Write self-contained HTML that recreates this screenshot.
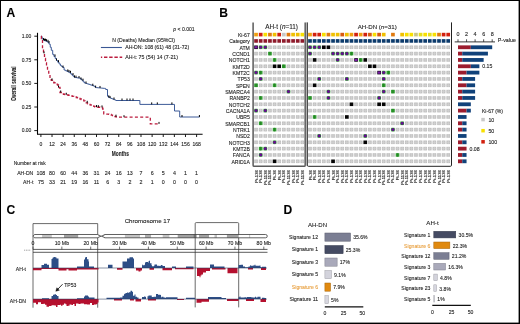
<!DOCTYPE html>
<html><head><meta charset="utf-8"><title>Figure</title>
<style>
html,body{margin:0;padding:0;background:#fff;}
body{width:520px;height:324px;overflow:hidden;}
svg{display:block;font-family:"Liberation Sans",sans-serif;will-change:transform;}
text{stroke-width:0.1px;stroke:#222;}
text.o{stroke:#e8a040;}
text.n{stroke-width:0.12px;}
</style></head><body>
<svg width="520" height="324" viewBox="0 0 520 324">
<rect x="0" y="0" width="520" height="324" fill="#fff"/>
<defs><g id="cg"><rect x="-1.85" y="-1.80" width="3.70" height="3.60" fill="#c2c2c2"/><rect x="-0.3" y="-1.80" width="0.6" height="3.60" fill="#d8d8d8"/><rect x="-1.85" y="-0.25" width="3.70" height="0.5" fill="#d2d2d2"/></g><g id="cG"><rect x="-1.85" y="-1.80" width="3.70" height="3.60" fill="#2f9a2f"/><rect x="-0.3" y="-1.80" width="0.6" height="3.60" fill="#1f7a1f"/></g><g id="cP"><rect x="-1.85" y="-1.80" width="3.70" height="3.60" fill="#45b545"/><rect x="-1.40" y="-1.35" width="2.80" height="2.70" rx="1.1" fill="#6c0c9c" stroke="#3a0a50" stroke-width="0.35"/></g><g id="cK"><rect x="-1.85" y="-1.80" width="3.70" height="3.60" fill="#050505"/></g><g id="cX"><rect x="-1.85" y="-1.80" width="3.70" height="3.60" fill="#12061a"/><rect x="-1.35" y="-1.10" width="2.70" height="2.20" fill="#7a1aa8"/></g></defs>
<text x="6.60" y="16.56" font-size="12.10" text-anchor="start" font-weight="bold" fill="#000" >A</text>
<line x1="37.50" y1="32.80" x2="37.50" y2="134.30" stroke="#000" stroke-width="1.10" />
<line x1="37.00" y1="134.30" x2="202.60" y2="134.30" stroke="#000" stroke-width="1.10" />
<line x1="34.30" y1="36.20" x2="37.50" y2="36.20" stroke="#000" stroke-width="0.90" />
<text x="31.40" y="38.00" font-size="5.00" text-anchor="end" font-weight="normal" fill="#222" >1.00</text>
<line x1="34.30" y1="59.80" x2="37.50" y2="59.80" stroke="#000" stroke-width="0.90" />
<text x="31.40" y="61.60" font-size="5.00" text-anchor="end" font-weight="normal" fill="#222" >0.75</text>
<line x1="34.30" y1="83.40" x2="37.50" y2="83.40" stroke="#000" stroke-width="0.90" />
<text x="31.40" y="85.20" font-size="5.00" text-anchor="end" font-weight="normal" fill="#222" >0.50</text>
<line x1="34.30" y1="107.00" x2="37.50" y2="107.00" stroke="#000" stroke-width="0.90" />
<text x="31.40" y="108.80" font-size="5.00" text-anchor="end" font-weight="normal" fill="#222" >0.25</text>
<line x1="34.30" y1="130.60" x2="37.50" y2="130.60" stroke="#000" stroke-width="0.90" />
<text x="31.40" y="132.40" font-size="5.00" text-anchor="end" font-weight="normal" fill="#222" >0.00</text>
<line x1="40.90" y1="134.30" x2="40.90" y2="137.00" stroke="#000" stroke-width="0.90" />
<text x="40.90" y="146.22" font-size="5.05" text-anchor="middle" font-weight="normal" fill="#222" >0</text>
<line x1="52.02" y1="134.30" x2="52.02" y2="137.00" stroke="#000" stroke-width="0.90" />
<text x="52.02" y="146.22" font-size="5.05" text-anchor="middle" font-weight="normal" fill="#222" >12</text>
<line x1="63.14" y1="134.30" x2="63.14" y2="137.00" stroke="#000" stroke-width="0.90" />
<text x="63.14" y="146.22" font-size="5.05" text-anchor="middle" font-weight="normal" fill="#222" >24</text>
<line x1="74.26" y1="134.30" x2="74.26" y2="137.00" stroke="#000" stroke-width="0.90" />
<text x="74.26" y="146.22" font-size="5.05" text-anchor="middle" font-weight="normal" fill="#222" >36</text>
<line x1="85.39" y1="134.30" x2="85.39" y2="137.00" stroke="#000" stroke-width="0.90" />
<text x="85.39" y="146.22" font-size="5.05" text-anchor="middle" font-weight="normal" fill="#222" >48</text>
<line x1="96.51" y1="134.30" x2="96.51" y2="137.00" stroke="#000" stroke-width="0.90" />
<text x="96.51" y="146.22" font-size="5.05" text-anchor="middle" font-weight="normal" fill="#222" >60</text>
<line x1="107.63" y1="134.30" x2="107.63" y2="137.00" stroke="#000" stroke-width="0.90" />
<text x="107.63" y="146.22" font-size="5.05" text-anchor="middle" font-weight="normal" fill="#222" >72</text>
<line x1="118.75" y1="134.30" x2="118.75" y2="137.00" stroke="#000" stroke-width="0.90" />
<text x="118.75" y="146.22" font-size="5.05" text-anchor="middle" font-weight="normal" fill="#222" >84</text>
<line x1="129.87" y1="134.30" x2="129.87" y2="137.00" stroke="#000" stroke-width="0.90" />
<text x="129.87" y="146.22" font-size="5.05" text-anchor="middle" font-weight="normal" fill="#222" >96</text>
<line x1="140.99" y1="134.30" x2="140.99" y2="137.00" stroke="#000" stroke-width="0.90" />
<text x="140.99" y="146.22" font-size="5.05" text-anchor="middle" font-weight="normal" fill="#222" >108</text>
<line x1="152.12" y1="134.30" x2="152.12" y2="137.00" stroke="#000" stroke-width="0.90" />
<text x="152.12" y="146.22" font-size="5.05" text-anchor="middle" font-weight="normal" fill="#222" >120</text>
<line x1="163.24" y1="134.30" x2="163.24" y2="137.00" stroke="#000" stroke-width="0.90" />
<text x="163.24" y="146.22" font-size="5.05" text-anchor="middle" font-weight="normal" fill="#222" >132</text>
<line x1="174.36" y1="134.30" x2="174.36" y2="137.00" stroke="#000" stroke-width="0.90" />
<text x="174.36" y="146.22" font-size="5.05" text-anchor="middle" font-weight="normal" fill="#222" >144</text>
<line x1="185.48" y1="134.30" x2="185.48" y2="137.00" stroke="#000" stroke-width="0.90" />
<text x="185.48" y="146.22" font-size="5.05" text-anchor="middle" font-weight="normal" fill="#222" >156</text>
<line x1="196.60" y1="134.30" x2="196.60" y2="137.00" stroke="#000" stroke-width="0.90" />
<text x="196.60" y="146.22" font-size="5.05" text-anchor="middle" font-weight="normal" fill="#222" >168</text>
<text transform="translate(120.3,156.1) scale(0.67,1)" font-size="7.2" font-weight="bold" text-anchor="middle" fill="#222">Months</text>
<text transform="translate(15.9,83.6) rotate(-90) scale(0.67,1)" font-size="6.9" font-weight="bold" text-anchor="middle" fill="#222">Overall survival</text>
<text x="13.70" y="165.48" font-size="4.95" text-anchor="start" font-weight="normal" fill="#222" >Number at risk</text>
<text x="33.30" y="174.84" font-size="5.10" text-anchor="end" font-weight="normal" fill="#222" >AH-DN</text>
<text x="33.30" y="183.64" font-size="5.10" text-anchor="end" font-weight="normal" fill="#222" >AH-t</text>
<text x="40.90" y="174.91" font-size="5.30" text-anchor="middle" font-weight="normal" fill="#222" >108</text>
<text x="40.90" y="183.71" font-size="5.30" text-anchor="middle" font-weight="normal" fill="#222" >75</text>
<text x="52.02" y="174.91" font-size="5.30" text-anchor="middle" font-weight="normal" fill="#222" >80</text>
<text x="52.02" y="183.71" font-size="5.30" text-anchor="middle" font-weight="normal" fill="#222" >33</text>
<text x="63.14" y="174.91" font-size="5.30" text-anchor="middle" font-weight="normal" fill="#222" >60</text>
<text x="63.14" y="183.71" font-size="5.30" text-anchor="middle" font-weight="normal" fill="#222" >21</text>
<text x="74.26" y="174.91" font-size="5.30" text-anchor="middle" font-weight="normal" fill="#222" >44</text>
<text x="74.26" y="183.71" font-size="5.30" text-anchor="middle" font-weight="normal" fill="#222" >19</text>
<text x="85.39" y="174.91" font-size="5.30" text-anchor="middle" font-weight="normal" fill="#222" >36</text>
<text x="85.39" y="183.71" font-size="5.30" text-anchor="middle" font-weight="normal" fill="#222" >16</text>
<text x="96.51" y="174.91" font-size="5.30" text-anchor="middle" font-weight="normal" fill="#222" >31</text>
<text x="96.51" y="183.71" font-size="5.30" text-anchor="middle" font-weight="normal" fill="#222" >11</text>
<text x="107.63" y="174.91" font-size="5.30" text-anchor="middle" font-weight="normal" fill="#222" >24</text>
<text x="107.63" y="183.71" font-size="5.30" text-anchor="middle" font-weight="normal" fill="#222" >6</text>
<text x="118.75" y="174.91" font-size="5.30" text-anchor="middle" font-weight="normal" fill="#222" >16</text>
<text x="118.75" y="183.71" font-size="5.30" text-anchor="middle" font-weight="normal" fill="#222" >3</text>
<text x="129.87" y="174.91" font-size="5.30" text-anchor="middle" font-weight="normal" fill="#222" >13</text>
<text x="129.87" y="183.71" font-size="5.30" text-anchor="middle" font-weight="normal" fill="#222" >2</text>
<text x="140.99" y="174.91" font-size="5.30" text-anchor="middle" font-weight="normal" fill="#222" >7</text>
<text x="140.99" y="183.71" font-size="5.30" text-anchor="middle" font-weight="normal" fill="#222" >2</text>
<text x="152.12" y="174.91" font-size="5.30" text-anchor="middle" font-weight="normal" fill="#222" >6</text>
<text x="152.12" y="183.71" font-size="5.30" text-anchor="middle" font-weight="normal" fill="#222" >1</text>
<text x="163.24" y="174.91" font-size="5.30" text-anchor="middle" font-weight="normal" fill="#222" >5</text>
<text x="163.24" y="183.71" font-size="5.30" text-anchor="middle" font-weight="normal" fill="#222" >0</text>
<text x="174.36" y="174.91" font-size="5.30" text-anchor="middle" font-weight="normal" fill="#222" >4</text>
<text x="174.36" y="183.71" font-size="5.30" text-anchor="middle" font-weight="normal" fill="#222" >0</text>
<text x="185.48" y="174.91" font-size="5.30" text-anchor="middle" font-weight="normal" fill="#222" >1</text>
<text x="185.48" y="183.71" font-size="5.30" text-anchor="middle" font-weight="normal" fill="#222" >0</text>
<text x="196.60" y="174.91" font-size="5.30" text-anchor="middle" font-weight="normal" fill="#222" >1</text>
<text x="196.60" y="183.71" font-size="5.30" text-anchor="middle" font-weight="normal" fill="#222" >0</text>
<text x="173.3" y="31.3" font-size="5.1" fill="#222"><tspan font-style="italic">p</tspan> &lt; 0.001</text>
<text x="112.20" y="41.64" font-size="5.10" text-anchor="start" font-weight="normal" fill="#222" >N (Deaths) Median (95%CI)</text>
<line x1="100.90" y1="47.50" x2="121.90" y2="47.50" stroke="#3a5794" stroke-width="1.10" />
<text x="125.20" y="49.07" font-size="5.20" text-anchor="start" font-weight="normal" fill="#222" >AH-DN: 108 (61) 48 (31-72)</text>
<line x1="100.90" y1="57.30" x2="122.20" y2="57.30" stroke="#bb1c3e" stroke-width="1.40" stroke-dasharray="3.4 1.8" stroke-dashoffset="2.1"/>
<text x="125.20" y="58.69" font-size="5.25" text-anchor="start" font-weight="normal" fill="#222" >AH-t: 75 (54) 14 (7-21)</text>
<path d="M40.90 36.30 H42.00 V38.20 H43.10 V40.10 H44.47 V40.67 H45.83 V41.23 H47.20 V41.80 H48.20 V43.00 H49.20 V44.20 H50.25 V47.25 H51.30 V50.30 H52.70 V54.40 H53.93 V56.43 H55.17 V58.47 H56.40 V60.50 H57.73 V62.20 H59.07 V63.90 H60.40 V65.60 H61.60 V66.55 H62.80 V67.50 H64.10 V70.00 H65.47 V70.70 H66.85 V71.40 H68.22 V72.10 H69.60 V72.80 H70.77 V73.95 H71.95 V75.10 H73.12 V76.25 H74.30 V77.40 H75.67 V77.62 H77.05 V77.85 H78.42 V78.08 H79.80 V78.30 H80.95 V79.47 H82.10 V80.65 H83.25 V81.83 H84.40 V83.00 H85.80 V83.45 H87.20 V83.90 H88.60 V84.35 H90.00 V84.80 H91.40 V85.25 H92.80 V85.70 H94.20 V86.65 H95.60 V87.60 H96.84 V87.71 H98.07 V87.82 H99.31 V87.94 H100.55 V88.05 H101.79 V88.16 H103.03 V88.28 H104.26 V88.39 H105.50 V88.50 H105.70 V89.50 H107.50 V96.25 H108.50 V97.40 H109.73 V97.92 H110.97 V98.43 H112.20 V98.95 H113.43 V99.47 H114.67 V99.98 H115.90 V100.50 H139.90 V104.40 H174.50 V111.00 H179.70 V117.00 H199.60" fill="none" stroke="#3d5b98" stroke-width="1.0"/>
<path d="M40.90 36.30 H41.40 V38.50 H42.50 V48.30 H43.50 V53.40 H44.50 V58.50 H45.50 V63.00 H46.50 V66.50 H47.50 V70.00 H48.75 V74.38 H50.00 V78.75 H51.25 V80.38 H52.50 V82.00 H53.75 V82.75 H55.00 V83.50 H56.25 V84.25 H57.50 V85.00 H58.50 V87.50 H60.00 V92.50 H61.25 V93.75 H62.50 V94.00 H63.75 V94.25 H65.00 V94.50 H66.25 V94.75 H67.50 V95.00 H68.75 V95.33 H70.00 V95.67 H71.25 V96.00 H72.50 V96.33 H73.75 V96.67 H75.00 V97.00 H76.25 V97.50 H77.50 V98.00 H78.75 V98.50 H80.00 V99.00 H81.25 V99.50 H82.50 V100.00 H83.75 V100.94 H85.00 V101.88 H86.25 V102.81 H87.50 V103.75 H88.75 V104.29 H90.00 V104.83 H91.25 V105.38 H92.50 V105.92 H93.75 V106.46 H95.00 V107.00 H96.22 V107.08 H97.43 V107.17 H98.65 V107.25 H99.87 V107.33 H101.08 V107.42 H102.30 V107.50 H102.60 V109.00 H103.75 V113.75 H105.00 V113.90 H106.25 V114.05 H107.50 V114.20 H108.75 V114.35 H110.00 V114.50 H111.25 V115.04 H112.50 V115.58 H113.75 V116.12 H115.00 V116.66 H116.25 V117.20 H150.30 V123.90 H159.40" fill="none" stroke="#bb1c3e" stroke-width="1.3" stroke-dasharray="3.0 2.3"/>
<rect x="43.00" y="38.10" width="1.00" height="2.00" fill="#000" />
<rect x="44.00" y="38.67" width="1.00" height="2.00" fill="#000" />
<rect x="45.00" y="38.67" width="1.00" height="2.00" fill="#000" />
<rect x="46.00" y="39.23" width="1.00" height="2.00" fill="#000" />
<rect x="47.50" y="39.80" width="1.00" height="2.00" fill="#000" />
<rect x="48.50" y="41.00" width="1.00" height="2.00" fill="#000" />
<rect x="54.50" y="54.43" width="1.00" height="2.00" fill="#000" />
<rect x="56.00" y="58.50" width="1.00" height="2.00" fill="#000" />
<rect x="58.00" y="60.20" width="1.00" height="2.00" fill="#000" />
<rect x="62.50" y="65.50" width="1.00" height="2.00" fill="#000" />
<rect x="67.30" y="69.40" width="1.00" height="2.00" fill="#000" />
<rect x="68.50" y="70.10" width="1.00" height="2.00" fill="#000" />
<rect x="70.00" y="70.80" width="1.00" height="2.00" fill="#000" />
<rect x="72.50" y="73.10" width="1.00" height="2.00" fill="#000" />
<rect x="74.00" y="75.40" width="1.00" height="2.00" fill="#000" />
<rect x="75.50" y="75.62" width="1.00" height="2.00" fill="#000" />
<rect x="78.50" y="76.08" width="1.00" height="2.00" fill="#000" />
<rect x="80.50" y="77.47" width="1.00" height="2.00" fill="#000" />
<rect x="82.50" y="78.65" width="1.00" height="2.00" fill="#000" />
<rect x="85.50" y="81.45" width="1.00" height="2.00" fill="#000" />
<rect x="92.30" y="83.70" width="1.00" height="2.00" fill="#000" />
<rect x="95.10" y="85.60" width="1.00" height="2.00" fill="#000" />
<rect x="99.50" y="85.94" width="1.00" height="2.00" fill="#000" />
<rect x="108.30" y="95.40" width="1.00" height="2.00" fill="#000" />
<rect x="109.50" y="95.92" width="1.00" height="2.00" fill="#000" />
<rect x="113.50" y="97.47" width="1.00" height="2.00" fill="#000" />
<rect x="121.50" y="98.50" width="1.00" height="2.00" fill="#000" />
<rect x="126.50" y="98.50" width="1.00" height="2.00" fill="#000" />
<rect x="129.50" y="98.50" width="1.00" height="2.00" fill="#000" />
<rect x="132.50" y="98.50" width="1.00" height="2.00" fill="#000" />
<rect x="151.20" y="102.40" width="1.00" height="2.00" fill="#000" />
<rect x="156.80" y="102.40" width="1.00" height="2.00" fill="#000" />
<rect x="171.40" y="102.40" width="1.00" height="2.00" fill="#000" />
<rect x="181.50" y="115.00" width="1.00" height="2.00" fill="#000" />
<rect x="198.90" y="115.00" width="1.00" height="2.00" fill="#000" />
<rect x="43.50" y="51.40" width="1.00" height="2.00" fill="#000" />
<rect x="51.50" y="78.38" width="1.00" height="2.00" fill="#000" />
<rect x="58.00" y="85.50" width="1.00" height="2.00" fill="#000" />
<rect x="60.20" y="90.50" width="1.00" height="2.00" fill="#000" />
<rect x="65.80" y="92.75" width="1.00" height="2.00" fill="#000" />
<rect x="86.70" y="100.81" width="1.00" height="2.00" fill="#000" />
<rect x="96.00" y="105.08" width="1.00" height="2.00" fill="#000" />
<rect x="97.80" y="105.17" width="1.00" height="2.00" fill="#000" />
<rect x="101.50" y="105.42" width="1.00" height="2.00" fill="#000" />
<rect x="115.50" y="114.66" width="1.00" height="2.00" fill="#000" />
<rect x="123.50" y="115.20" width="1.00" height="2.00" fill="#000" />
<rect x="158.50" y="121.90" width="1.00" height="2.00" fill="#000" />
<text x="219.30" y="16.66" font-size="12.10" text-anchor="start" font-weight="bold" fill="#000" >B</text>
<text x="249.80" y="36.94" font-size="5.10" text-anchor="end" font-weight="normal" fill="#222" >Ki-67</text>
<text x="249.80" y="43.27" font-size="5.10" text-anchor="end" font-weight="normal" fill="#222" >Category</text>
<text x="249.80" y="49.61" font-size="5.10" text-anchor="end" font-weight="normal" fill="#222" >ATM</text>
<text x="249.80" y="55.94" font-size="5.10" text-anchor="end" font-weight="normal" fill="#222" >CCND1</text>
<text x="249.80" y="62.28" font-size="5.10" text-anchor="end" font-weight="normal" fill="#222" >NOTCH1</text>
<text x="249.80" y="68.61" font-size="5.10" text-anchor="end" font-weight="normal" fill="#222" >KMT2D</text>
<text x="249.80" y="74.95" font-size="5.10" text-anchor="end" font-weight="normal" fill="#222" >KMT2C</text>
<text x="249.80" y="81.28" font-size="5.10" text-anchor="end" font-weight="normal" fill="#222" >TP53</text>
<text x="249.80" y="87.62" font-size="5.10" text-anchor="end" font-weight="normal" fill="#222" >SPEN</text>
<text x="249.80" y="93.95" font-size="5.10" text-anchor="end" font-weight="normal" fill="#222" >SMARCA4</text>
<text x="249.80" y="100.29" font-size="5.10" text-anchor="end" font-weight="normal" fill="#222" >RANBP2</text>
<text x="249.80" y="106.62" font-size="5.10" text-anchor="end" font-weight="normal" fill="#222" >NOTCH2</text>
<text x="249.80" y="112.96" font-size="5.10" text-anchor="end" font-weight="normal" fill="#222" >CACNA1A</text>
<text x="249.80" y="119.29" font-size="5.10" text-anchor="end" font-weight="normal" fill="#222" >UBR5</text>
<text x="249.80" y="125.63" font-size="5.10" text-anchor="end" font-weight="normal" fill="#222" >SMARCB1</text>
<text x="249.80" y="131.96" font-size="5.10" text-anchor="end" font-weight="normal" fill="#222" >NTRK1</text>
<text x="249.80" y="138.30" font-size="5.10" text-anchor="end" font-weight="normal" fill="#222" >NSD2</text>
<text x="249.80" y="144.63" font-size="5.10" text-anchor="end" font-weight="normal" fill="#222" >NOTCH3</text>
<text x="249.80" y="150.97" font-size="5.10" text-anchor="end" font-weight="normal" fill="#222" >KMT2B</text>
<text x="249.80" y="157.30" font-size="5.10" text-anchor="end" font-weight="normal" fill="#222" >FANCA</text>
<text x="249.80" y="163.64" font-size="5.10" text-anchor="end" font-weight="normal" fill="#222" >ARID1A</text>
<text x="281.6" y="29.0" font-size="6.4" text-anchor="middle" fill="#222">AH-t (<tspan font-style="italic">n</tspan>=11)</text>
<text x="377.2" y="28.6" font-size="6.15" text-anchor="middle" fill="#222">AH-DN (<tspan font-style="italic">n</tspan>=31)</text>
<rect x="254.20" y="32.80" width="3.70" height="3.60" fill="#f0a010" />
<rect x="254.20" y="39.14" width="3.70" height="3.60" fill="#8e1a2b" />
<use href="#cX" x="256.05" y="47.27"/>
<use href="#cg" x="256.05" y="53.61"/>
<use href="#cg" x="256.05" y="59.94"/>
<use href="#cg" x="256.05" y="66.28"/>
<use href="#cP" x="256.05" y="72.61"/>
<use href="#cg" x="256.05" y="78.94"/>
<use href="#cG" x="256.05" y="85.28"/>
<use href="#cg" x="256.05" y="91.62"/>
<use href="#cg" x="256.05" y="97.95"/>
<use href="#cg" x="256.05" y="104.28"/>
<use href="#cP" x="256.05" y="110.62"/>
<use href="#cg" x="256.05" y="116.96"/>
<use href="#cg" x="256.05" y="123.29"/>
<use href="#cg" x="256.05" y="129.62"/>
<use href="#cg" x="256.05" y="135.96"/>
<use href="#cg" x="256.05" y="142.29"/>
<use href="#cg" x="256.05" y="148.63"/>
<use href="#cg" x="256.05" y="154.97"/>
<use href="#cg" x="256.05" y="161.30"/>
<rect x="258.83" y="32.80" width="3.70" height="3.60" fill="#d2200e" />
<rect x="258.83" y="39.14" width="3.70" height="3.60" fill="#8e1a2b" />
<use href="#cP" x="260.68" y="47.27"/>
<use href="#cg" x="260.68" y="53.61"/>
<use href="#cg" x="260.68" y="59.94"/>
<use href="#cg" x="260.68" y="66.28"/>
<use href="#cG" x="260.68" y="72.61"/>
<use href="#cP" x="260.68" y="78.94"/>
<use href="#cg" x="260.68" y="85.28"/>
<use href="#cg" x="260.68" y="91.62"/>
<use href="#cG" x="260.68" y="97.95"/>
<use href="#cg" x="260.68" y="104.28"/>
<use href="#cg" x="260.68" y="110.62"/>
<use href="#cg" x="260.68" y="116.96"/>
<use href="#cG" x="260.68" y="123.29"/>
<use href="#cg" x="260.68" y="129.62"/>
<use href="#cg" x="260.68" y="135.96"/>
<use href="#cg" x="260.68" y="142.29"/>
<use href="#cG" x="260.68" y="148.63"/>
<use href="#cP" x="260.68" y="154.97"/>
<use href="#cg" x="260.68" y="161.30"/>
<rect x="263.46" y="32.80" width="3.70" height="3.60" fill="#f8e000" />
<rect x="263.46" y="39.14" width="3.70" height="3.60" fill="#8e1a2b" />
<use href="#cP" x="265.31" y="47.27"/>
<use href="#cg" x="265.31" y="53.61"/>
<use href="#cg" x="265.31" y="59.94"/>
<use href="#cg" x="265.31" y="66.28"/>
<use href="#cg" x="265.31" y="72.61"/>
<use href="#cg" x="265.31" y="78.94"/>
<use href="#cg" x="265.31" y="85.28"/>
<use href="#cg" x="265.31" y="91.62"/>
<use href="#cg" x="265.31" y="97.95"/>
<use href="#cg" x="265.31" y="104.28"/>
<use href="#cP" x="265.31" y="110.62"/>
<use href="#cg" x="265.31" y="116.96"/>
<use href="#cg" x="265.31" y="123.29"/>
<use href="#cg" x="265.31" y="129.62"/>
<use href="#cg" x="265.31" y="135.96"/>
<use href="#cg" x="265.31" y="142.29"/>
<use href="#cP" x="265.31" y="148.63"/>
<use href="#cg" x="265.31" y="154.97"/>
<use href="#cg" x="265.31" y="161.30"/>
<rect x="268.09" y="32.80" width="3.70" height="3.60" fill="#e07a10" />
<rect x="268.09" y="39.14" width="3.70" height="3.60" fill="#8e1a2b" />
<use href="#cg" x="269.94" y="47.27"/>
<use href="#cG" x="269.94" y="53.61"/>
<use href="#cg" x="269.94" y="59.94"/>
<use href="#cg" x="269.94" y="66.28"/>
<use href="#cg" x="269.94" y="72.61"/>
<use href="#cg" x="269.94" y="78.94"/>
<use href="#cg" x="269.94" y="85.28"/>
<use href="#cg" x="269.94" y="91.62"/>
<use href="#cg" x="269.94" y="97.95"/>
<use href="#cg" x="269.94" y="104.28"/>
<use href="#cg" x="269.94" y="110.62"/>
<use href="#cg" x="269.94" y="116.96"/>
<use href="#cg" x="269.94" y="123.29"/>
<use href="#cg" x="269.94" y="129.62"/>
<use href="#cg" x="269.94" y="135.96"/>
<use href="#cg" x="269.94" y="142.29"/>
<use href="#cg" x="269.94" y="148.63"/>
<use href="#cg" x="269.94" y="154.97"/>
<use href="#cg" x="269.94" y="161.30"/>
<rect x="272.72" y="32.80" width="3.70" height="3.60" fill="#f0c000" />
<rect x="272.72" y="39.14" width="3.70" height="3.60" fill="#8e1a2b" />
<use href="#cg" x="274.57" y="47.27"/>
<use href="#cg" x="274.57" y="53.61"/>
<use href="#cG" x="274.57" y="59.94"/>
<use href="#cK" x="274.57" y="66.28"/>
<use href="#cg" x="274.57" y="72.61"/>
<use href="#cg" x="274.57" y="78.94"/>
<use href="#cG" x="274.57" y="85.28"/>
<use href="#cg" x="274.57" y="91.62"/>
<use href="#cg" x="274.57" y="97.95"/>
<use href="#cg" x="274.57" y="104.28"/>
<use href="#cg" x="274.57" y="110.62"/>
<use href="#cg" x="274.57" y="116.96"/>
<use href="#cg" x="274.57" y="123.29"/>
<use href="#cG" x="274.57" y="129.62"/>
<use href="#cg" x="274.57" y="135.96"/>
<use href="#cP" x="274.57" y="142.29"/>
<use href="#cg" x="274.57" y="148.63"/>
<use href="#cg" x="274.57" y="154.97"/>
<use href="#cK" x="274.57" y="161.30"/>
<rect x="277.35" y="32.80" width="3.70" height="3.60" fill="#d2200e" />
<rect x="277.35" y="39.14" width="3.70" height="3.60" fill="#8e1a2b" />
<use href="#cg" x="279.20" y="47.27"/>
<use href="#cg" x="279.20" y="53.61"/>
<use href="#cg" x="279.20" y="59.94"/>
<use href="#cK" x="279.20" y="66.28"/>
<use href="#cg" x="279.20" y="72.61"/>
<use href="#cg" x="279.20" y="78.94"/>
<use href="#cg" x="279.20" y="85.28"/>
<use href="#cg" x="279.20" y="91.62"/>
<use href="#cg" x="279.20" y="97.95"/>
<use href="#cg" x="279.20" y="104.28"/>
<use href="#cg" x="279.20" y="110.62"/>
<use href="#cg" x="279.20" y="116.96"/>
<use href="#cg" x="279.20" y="123.29"/>
<use href="#cg" x="279.20" y="129.62"/>
<use href="#cg" x="279.20" y="135.96"/>
<use href="#cg" x="279.20" y="142.29"/>
<use href="#cg" x="279.20" y="148.63"/>
<use href="#cg" x="279.20" y="154.97"/>
<use href="#cg" x="279.20" y="161.30"/>
<rect x="281.98" y="32.80" width="3.70" height="3.60" fill="#c8c8c8" />
<rect x="281.98" y="39.14" width="3.70" height="3.60" fill="#8e1a2b" />
<use href="#cg" x="283.83" y="47.27"/>
<use href="#cg" x="283.83" y="53.61"/>
<use href="#cg" x="283.83" y="59.94"/>
<use href="#cG" x="283.83" y="66.28"/>
<use href="#cg" x="283.83" y="72.61"/>
<use href="#cg" x="283.83" y="78.94"/>
<use href="#cg" x="283.83" y="85.28"/>
<use href="#cg" x="283.83" y="91.62"/>
<use href="#cg" x="283.83" y="97.95"/>
<use href="#cg" x="283.83" y="104.28"/>
<use href="#cg" x="283.83" y="110.62"/>
<use href="#cg" x="283.83" y="116.96"/>
<use href="#cg" x="283.83" y="123.29"/>
<use href="#cg" x="283.83" y="129.62"/>
<use href="#cg" x="283.83" y="135.96"/>
<use href="#cg" x="283.83" y="142.29"/>
<use href="#cg" x="283.83" y="148.63"/>
<use href="#cg" x="283.83" y="154.97"/>
<use href="#cg" x="283.83" y="161.30"/>
<rect x="286.61" y="32.80" width="3.70" height="3.60" fill="#e07a10" />
<rect x="286.61" y="39.14" width="3.70" height="3.60" fill="#8e1a2b" />
<use href="#cg" x="288.46" y="47.27"/>
<use href="#cg" x="288.46" y="53.61"/>
<use href="#cg" x="288.46" y="59.94"/>
<use href="#cg" x="288.46" y="66.28"/>
<use href="#cg" x="288.46" y="72.61"/>
<use href="#cg" x="288.46" y="78.94"/>
<use href="#cg" x="288.46" y="85.28"/>
<use href="#cP" x="288.46" y="91.62"/>
<use href="#cg" x="288.46" y="97.95"/>
<use href="#cg" x="288.46" y="104.28"/>
<use href="#cg" x="288.46" y="110.62"/>
<use href="#cg" x="288.46" y="116.96"/>
<use href="#cg" x="288.46" y="123.29"/>
<use href="#cg" x="288.46" y="129.62"/>
<use href="#cg" x="288.46" y="135.96"/>
<use href="#cg" x="288.46" y="142.29"/>
<use href="#cg" x="288.46" y="148.63"/>
<use href="#cg" x="288.46" y="154.97"/>
<use href="#cg" x="288.46" y="161.30"/>
<rect x="291.24" y="32.80" width="3.70" height="3.60" fill="#f0c000" />
<rect x="291.24" y="39.14" width="3.70" height="3.60" fill="#8e1a2b" />
<use href="#cg" x="293.09" y="47.27"/>
<use href="#cg" x="293.09" y="53.61"/>
<use href="#cg" x="293.09" y="59.94"/>
<use href="#cg" x="293.09" y="66.28"/>
<use href="#cg" x="293.09" y="72.61"/>
<use href="#cg" x="293.09" y="78.94"/>
<use href="#cg" x="293.09" y="85.28"/>
<use href="#cg" x="293.09" y="91.62"/>
<use href="#cg" x="293.09" y="97.95"/>
<use href="#cg" x="293.09" y="104.28"/>
<use href="#cg" x="293.09" y="110.62"/>
<use href="#cg" x="293.09" y="116.96"/>
<use href="#cg" x="293.09" y="123.29"/>
<use href="#cg" x="293.09" y="129.62"/>
<use href="#cg" x="293.09" y="135.96"/>
<use href="#cg" x="293.09" y="142.29"/>
<use href="#cg" x="293.09" y="148.63"/>
<use href="#cg" x="293.09" y="154.97"/>
<use href="#cg" x="293.09" y="161.30"/>
<rect x="295.87" y="32.80" width="3.70" height="3.60" fill="#f0c000" />
<rect x="295.87" y="39.14" width="3.70" height="3.60" fill="#8e1a2b" />
<use href="#cg" x="297.72" y="47.27"/>
<use href="#cg" x="297.72" y="53.61"/>
<use href="#cg" x="297.72" y="59.94"/>
<use href="#cg" x="297.72" y="66.28"/>
<use href="#cg" x="297.72" y="72.61"/>
<use href="#cg" x="297.72" y="78.94"/>
<use href="#cg" x="297.72" y="85.28"/>
<use href="#cg" x="297.72" y="91.62"/>
<use href="#cg" x="297.72" y="97.95"/>
<use href="#cg" x="297.72" y="104.28"/>
<use href="#cg" x="297.72" y="110.62"/>
<use href="#cg" x="297.72" y="116.96"/>
<use href="#cg" x="297.72" y="123.29"/>
<use href="#cg" x="297.72" y="129.62"/>
<use href="#cg" x="297.72" y="135.96"/>
<use href="#cg" x="297.72" y="142.29"/>
<use href="#cg" x="297.72" y="148.63"/>
<use href="#cg" x="297.72" y="154.97"/>
<use href="#cg" x="297.72" y="161.30"/>
<rect x="300.50" y="32.80" width="3.70" height="3.60" fill="#f8e000" />
<rect x="300.50" y="39.14" width="3.70" height="3.60" fill="#8e1a2b" />
<use href="#cg" x="302.35" y="47.27"/>
<use href="#cg" x="302.35" y="53.61"/>
<use href="#cg" x="302.35" y="59.94"/>
<use href="#cg" x="302.35" y="66.28"/>
<use href="#cg" x="302.35" y="72.61"/>
<use href="#cg" x="302.35" y="78.94"/>
<use href="#cg" x="302.35" y="85.28"/>
<use href="#cg" x="302.35" y="91.62"/>
<use href="#cg" x="302.35" y="97.95"/>
<use href="#cg" x="302.35" y="104.28"/>
<use href="#cg" x="302.35" y="110.62"/>
<use href="#cg" x="302.35" y="116.96"/>
<use href="#cg" x="302.35" y="123.29"/>
<use href="#cg" x="302.35" y="129.62"/>
<use href="#cg" x="302.35" y="135.96"/>
<use href="#cg" x="302.35" y="142.29"/>
<use href="#cg" x="302.35" y="148.63"/>
<use href="#cg" x="302.35" y="154.97"/>
<use href="#cg" x="302.35" y="161.30"/>
<rect x="308.15" y="32.80" width="3.70" height="3.60" fill="#f0a010" />
<rect x="308.15" y="39.14" width="3.70" height="3.60" fill="#0c3b6c" />
<use href="#cP" x="310.00" y="47.27"/>
<use href="#cP" x="310.00" y="53.61"/>
<use href="#cg" x="310.00" y="59.94"/>
<use href="#cg" x="310.00" y="66.28"/>
<use href="#cg" x="310.00" y="72.61"/>
<use href="#cg" x="310.00" y="78.94"/>
<use href="#cg" x="310.00" y="85.28"/>
<use href="#cg" x="310.00" y="91.62"/>
<use href="#cG" x="310.00" y="97.95"/>
<use href="#cg" x="310.00" y="104.28"/>
<use href="#cg" x="310.00" y="110.62"/>
<use href="#cg" x="310.00" y="116.96"/>
<use href="#cg" x="310.00" y="123.29"/>
<use href="#cg" x="310.00" y="129.62"/>
<use href="#cg" x="310.00" y="135.96"/>
<use href="#cg" x="310.00" y="142.29"/>
<use href="#cg" x="310.00" y="148.63"/>
<use href="#cg" x="310.00" y="154.97"/>
<use href="#cg" x="310.00" y="161.30"/>
<rect x="312.76" y="32.80" width="3.70" height="3.60" fill="#d2200e" />
<rect x="312.76" y="39.14" width="3.70" height="3.60" fill="#0c3b6c" />
<use href="#cP" x="314.61" y="47.27"/>
<use href="#cg" x="314.61" y="53.61"/>
<use href="#cK" x="314.61" y="59.94"/>
<use href="#cg" x="314.61" y="66.28"/>
<use href="#cg" x="314.61" y="72.61"/>
<use href="#cg" x="314.61" y="78.94"/>
<use href="#cK" x="314.61" y="85.28"/>
<use href="#cg" x="314.61" y="91.62"/>
<use href="#cg" x="314.61" y="97.95"/>
<use href="#cg" x="314.61" y="104.28"/>
<use href="#cg" x="314.61" y="110.62"/>
<use href="#cG" x="314.61" y="116.96"/>
<use href="#cg" x="314.61" y="123.29"/>
<use href="#cg" x="314.61" y="129.62"/>
<use href="#cg" x="314.61" y="135.96"/>
<use href="#cg" x="314.61" y="142.29"/>
<use href="#cg" x="314.61" y="148.63"/>
<use href="#cg" x="314.61" y="154.97"/>
<use href="#cg" x="314.61" y="161.30"/>
<rect x="317.36" y="32.80" width="3.70" height="3.60" fill="#d2200e" />
<rect x="317.36" y="39.14" width="3.70" height="3.60" fill="#0c3b6c" />
<use href="#cP" x="319.21" y="47.27"/>
<use href="#cg" x="319.21" y="53.61"/>
<use href="#cg" x="319.21" y="59.94"/>
<use href="#cg" x="319.21" y="66.28"/>
<use href="#cg" x="319.21" y="72.61"/>
<use href="#cP" x="319.21" y="78.94"/>
<use href="#cg" x="319.21" y="85.28"/>
<use href="#cg" x="319.21" y="91.62"/>
<use href="#cg" x="319.21" y="97.95"/>
<use href="#cg" x="319.21" y="104.28"/>
<use href="#cg" x="319.21" y="110.62"/>
<use href="#cg" x="319.21" y="116.96"/>
<use href="#cg" x="319.21" y="123.29"/>
<use href="#cg" x="319.21" y="129.62"/>
<use href="#cP" x="319.21" y="135.96"/>
<use href="#cg" x="319.21" y="142.29"/>
<use href="#cg" x="319.21" y="148.63"/>
<use href="#cg" x="319.21" y="154.97"/>
<use href="#cg" x="319.21" y="161.30"/>
<rect x="321.97" y="32.80" width="3.70" height="3.60" fill="#f8e000" />
<rect x="321.97" y="39.14" width="3.70" height="3.60" fill="#0c3b6c" />
<use href="#cK" x="323.82" y="47.27"/>
<use href="#cg" x="323.82" y="53.61"/>
<use href="#cg" x="323.82" y="59.94"/>
<use href="#cg" x="323.82" y="66.28"/>
<use href="#cg" x="323.82" y="72.61"/>
<use href="#cg" x="323.82" y="78.94"/>
<use href="#cg" x="323.82" y="85.28"/>
<use href="#cg" x="323.82" y="91.62"/>
<use href="#cg" x="323.82" y="97.95"/>
<use href="#cg" x="323.82" y="104.28"/>
<use href="#cg" x="323.82" y="110.62"/>
<use href="#cg" x="323.82" y="116.96"/>
<use href="#cg" x="323.82" y="123.29"/>
<use href="#cg" x="323.82" y="129.62"/>
<use href="#cg" x="323.82" y="135.96"/>
<use href="#cg" x="323.82" y="142.29"/>
<use href="#cg" x="323.82" y="148.63"/>
<use href="#cg" x="323.82" y="154.97"/>
<use href="#cg" x="323.82" y="161.30"/>
<rect x="326.58" y="32.80" width="3.70" height="3.60" fill="#e07a10" />
<rect x="326.58" y="39.14" width="3.70" height="3.60" fill="#0c3b6c" />
<use href="#cK" x="328.43" y="47.27"/>
<use href="#cg" x="328.43" y="53.61"/>
<use href="#cg" x="328.43" y="59.94"/>
<use href="#cg" x="328.43" y="66.28"/>
<use href="#cg" x="328.43" y="72.61"/>
<use href="#cg" x="328.43" y="78.94"/>
<use href="#cg" x="328.43" y="85.28"/>
<use href="#cP" x="328.43" y="91.62"/>
<use href="#cP" x="328.43" y="97.95"/>
<use href="#cg" x="328.43" y="104.28"/>
<use href="#cg" x="328.43" y="110.62"/>
<use href="#cg" x="328.43" y="116.96"/>
<use href="#cg" x="328.43" y="123.29"/>
<use href="#cg" x="328.43" y="129.62"/>
<use href="#cg" x="328.43" y="135.96"/>
<use href="#cg" x="328.43" y="142.29"/>
<use href="#cg" x="328.43" y="148.63"/>
<use href="#cg" x="328.43" y="154.97"/>
<use href="#cg" x="328.43" y="161.30"/>
<rect x="331.19" y="32.80" width="3.70" height="3.60" fill="#f0c000" />
<rect x="331.19" y="39.14" width="3.70" height="3.60" fill="#0c3b6c" />
<use href="#cg" x="333.04" y="47.27"/>
<use href="#cP" x="333.04" y="53.61"/>
<use href="#cg" x="333.04" y="59.94"/>
<use href="#cg" x="333.04" y="66.28"/>
<use href="#cg" x="333.04" y="72.61"/>
<use href="#cg" x="333.04" y="78.94"/>
<use href="#cg" x="333.04" y="85.28"/>
<use href="#cg" x="333.04" y="91.62"/>
<use href="#cg" x="333.04" y="97.95"/>
<use href="#cg" x="333.04" y="104.28"/>
<use href="#cg" x="333.04" y="110.62"/>
<use href="#cg" x="333.04" y="116.96"/>
<use href="#cg" x="333.04" y="123.29"/>
<use href="#cg" x="333.04" y="129.62"/>
<use href="#cg" x="333.04" y="135.96"/>
<use href="#cg" x="333.04" y="142.29"/>
<use href="#cg" x="333.04" y="148.63"/>
<use href="#cg" x="333.04" y="154.97"/>
<use href="#cK" x="333.04" y="161.30"/>
<rect x="335.79" y="32.80" width="3.70" height="3.60" fill="#f0c000" />
<rect x="335.79" y="39.14" width="3.70" height="3.60" fill="#0c3b6c" />
<use href="#cg" x="337.64" y="47.27"/>
<use href="#cP" x="337.64" y="53.61"/>
<use href="#cP" x="337.64" y="59.94"/>
<use href="#cg" x="337.64" y="66.28"/>
<use href="#cg" x="337.64" y="72.61"/>
<use href="#cg" x="337.64" y="78.94"/>
<use href="#cg" x="337.64" y="85.28"/>
<use href="#cg" x="337.64" y="91.62"/>
<use href="#cg" x="337.64" y="97.95"/>
<use href="#cg" x="337.64" y="104.28"/>
<use href="#cg" x="337.64" y="110.62"/>
<use href="#cg" x="337.64" y="116.96"/>
<use href="#cg" x="337.64" y="123.29"/>
<use href="#cg" x="337.64" y="129.62"/>
<use href="#cg" x="337.64" y="135.96"/>
<use href="#cg" x="337.64" y="142.29"/>
<use href="#cg" x="337.64" y="148.63"/>
<use href="#cg" x="337.64" y="154.97"/>
<use href="#cg" x="337.64" y="161.30"/>
<rect x="340.40" y="32.80" width="3.70" height="3.60" fill="#d85a10" />
<rect x="340.40" y="39.14" width="3.70" height="3.60" fill="#0c3b6c" />
<use href="#cg" x="342.25" y="47.27"/>
<use href="#cP" x="342.25" y="53.61"/>
<use href="#cg" x="342.25" y="59.94"/>
<use href="#cg" x="342.25" y="66.28"/>
<use href="#cg" x="342.25" y="72.61"/>
<use href="#cg" x="342.25" y="78.94"/>
<use href="#cg" x="342.25" y="85.28"/>
<use href="#cg" x="342.25" y="91.62"/>
<use href="#cg" x="342.25" y="97.95"/>
<use href="#cg" x="342.25" y="104.28"/>
<use href="#cg" x="342.25" y="110.62"/>
<use href="#cg" x="342.25" y="116.96"/>
<use href="#cg" x="342.25" y="123.29"/>
<use href="#cg" x="342.25" y="129.62"/>
<use href="#cg" x="342.25" y="135.96"/>
<use href="#cg" x="342.25" y="142.29"/>
<use href="#cg" x="342.25" y="148.63"/>
<use href="#cg" x="342.25" y="154.97"/>
<use href="#cg" x="342.25" y="161.30"/>
<rect x="345.01" y="32.80" width="3.70" height="3.60" fill="#f0c000" />
<rect x="345.01" y="39.14" width="3.70" height="3.60" fill="#0c3b6c" />
<use href="#cg" x="346.86" y="47.27"/>
<use href="#cP" x="346.86" y="53.61"/>
<use href="#cg" x="346.86" y="59.94"/>
<use href="#cg" x="346.86" y="66.28"/>
<use href="#cg" x="346.86" y="72.61"/>
<use href="#cP" x="346.86" y="78.94"/>
<use href="#cg" x="346.86" y="85.28"/>
<use href="#cg" x="346.86" y="91.62"/>
<use href="#cg" x="346.86" y="97.95"/>
<use href="#cg" x="346.86" y="104.28"/>
<use href="#cg" x="346.86" y="110.62"/>
<use href="#cK" x="346.86" y="116.96"/>
<use href="#cg" x="346.86" y="123.29"/>
<use href="#cg" x="346.86" y="129.62"/>
<use href="#cg" x="346.86" y="135.96"/>
<use href="#cg" x="346.86" y="142.29"/>
<use href="#cg" x="346.86" y="148.63"/>
<use href="#cg" x="346.86" y="154.97"/>
<use href="#cg" x="346.86" y="161.30"/>
<rect x="349.61" y="32.80" width="3.70" height="3.60" fill="#f0a010" />
<rect x="349.61" y="39.14" width="3.70" height="3.60" fill="#0c3b6c" />
<use href="#cg" x="351.46" y="47.27"/>
<use href="#cG" x="351.46" y="53.61"/>
<use href="#cg" x="351.46" y="59.94"/>
<use href="#cg" x="351.46" y="66.28"/>
<use href="#cg" x="351.46" y="72.61"/>
<use href="#cg" x="351.46" y="78.94"/>
<use href="#cg" x="351.46" y="85.28"/>
<use href="#cg" x="351.46" y="91.62"/>
<use href="#cg" x="351.46" y="97.95"/>
<use href="#cK" x="351.46" y="104.28"/>
<use href="#cg" x="351.46" y="110.62"/>
<use href="#cg" x="351.46" y="116.96"/>
<use href="#cg" x="351.46" y="123.29"/>
<use href="#cg" x="351.46" y="129.62"/>
<use href="#cg" x="351.46" y="135.96"/>
<use href="#cg" x="351.46" y="142.29"/>
<use href="#cg" x="351.46" y="148.63"/>
<use href="#cg" x="351.46" y="154.97"/>
<use href="#cg" x="351.46" y="161.30"/>
<rect x="354.22" y="32.80" width="3.70" height="3.60" fill="#d2200e" />
<rect x="354.22" y="39.14" width="3.70" height="3.60" fill="#0c3b6c" />
<use href="#cg" x="356.07" y="47.27"/>
<use href="#cg" x="356.07" y="53.61"/>
<use href="#cX" x="356.07" y="59.94"/>
<use href="#cg" x="356.07" y="66.28"/>
<use href="#cg" x="356.07" y="72.61"/>
<use href="#cg" x="356.07" y="78.94"/>
<use href="#cg" x="356.07" y="85.28"/>
<use href="#cg" x="356.07" y="91.62"/>
<use href="#cg" x="356.07" y="97.95"/>
<use href="#cg" x="356.07" y="104.28"/>
<use href="#cg" x="356.07" y="110.62"/>
<use href="#cg" x="356.07" y="116.96"/>
<use href="#cg" x="356.07" y="123.29"/>
<use href="#cg" x="356.07" y="129.62"/>
<use href="#cg" x="356.07" y="135.96"/>
<use href="#cg" x="356.07" y="142.29"/>
<use href="#cg" x="356.07" y="148.63"/>
<use href="#cg" x="356.07" y="154.97"/>
<use href="#cg" x="356.07" y="161.30"/>
<rect x="358.83" y="32.80" width="3.70" height="3.60" fill="#f0a010" />
<rect x="358.83" y="39.14" width="3.70" height="3.60" fill="#0c3b6c" />
<use href="#cg" x="360.68" y="47.27"/>
<use href="#cg" x="360.68" y="53.61"/>
<use href="#cG" x="360.68" y="59.94"/>
<use href="#cg" x="360.68" y="66.28"/>
<use href="#cg" x="360.68" y="72.61"/>
<use href="#cg" x="360.68" y="78.94"/>
<use href="#cg" x="360.68" y="85.28"/>
<use href="#cg" x="360.68" y="91.62"/>
<use href="#cg" x="360.68" y="97.95"/>
<use href="#cg" x="360.68" y="104.28"/>
<use href="#cg" x="360.68" y="110.62"/>
<use href="#cg" x="360.68" y="116.96"/>
<use href="#cg" x="360.68" y="123.29"/>
<use href="#cg" x="360.68" y="129.62"/>
<use href="#cg" x="360.68" y="135.96"/>
<use href="#cg" x="360.68" y="142.29"/>
<use href="#cg" x="360.68" y="148.63"/>
<use href="#cg" x="360.68" y="154.97"/>
<use href="#cg" x="360.68" y="161.30"/>
<rect x="363.43" y="32.80" width="3.70" height="3.60" fill="#d2200e" />
<rect x="363.43" y="39.14" width="3.70" height="3.60" fill="#0c3b6c" />
<use href="#cg" x="365.28" y="47.27"/>
<use href="#cg" x="365.28" y="53.61"/>
<use href="#cK" x="365.28" y="59.94"/>
<use href="#cg" x="365.28" y="66.28"/>
<use href="#cg" x="365.28" y="72.61"/>
<use href="#cg" x="365.28" y="78.94"/>
<use href="#cg" x="365.28" y="85.28"/>
<use href="#cg" x="365.28" y="91.62"/>
<use href="#cg" x="365.28" y="97.95"/>
<use href="#cg" x="365.28" y="104.28"/>
<use href="#cg" x="365.28" y="110.62"/>
<use href="#cg" x="365.28" y="116.96"/>
<use href="#cg" x="365.28" y="123.29"/>
<use href="#cg" x="365.28" y="129.62"/>
<use href="#cP" x="365.28" y="135.96"/>
<use href="#cK" x="365.28" y="142.29"/>
<use href="#cg" x="365.28" y="148.63"/>
<use href="#cg" x="365.28" y="154.97"/>
<use href="#cg" x="365.28" y="161.30"/>
<rect x="368.04" y="32.80" width="3.70" height="3.60" fill="#d85a10" />
<rect x="368.04" y="39.14" width="3.70" height="3.60" fill="#0c3b6c" />
<use href="#cg" x="369.89" y="47.27"/>
<use href="#cg" x="369.89" y="53.61"/>
<use href="#cg" x="369.89" y="59.94"/>
<use href="#cK" x="369.89" y="66.28"/>
<use href="#cg" x="369.89" y="72.61"/>
<use href="#cg" x="369.89" y="78.94"/>
<use href="#cg" x="369.89" y="85.28"/>
<use href="#cg" x="369.89" y="91.62"/>
<use href="#cg" x="369.89" y="97.95"/>
<use href="#cg" x="369.89" y="104.28"/>
<use href="#cg" x="369.89" y="110.62"/>
<use href="#cg" x="369.89" y="116.96"/>
<use href="#cg" x="369.89" y="123.29"/>
<use href="#cg" x="369.89" y="129.62"/>
<use href="#cg" x="369.89" y="135.96"/>
<use href="#cg" x="369.89" y="142.29"/>
<use href="#cg" x="369.89" y="148.63"/>
<use href="#cg" x="369.89" y="154.97"/>
<use href="#cg" x="369.89" y="161.30"/>
<rect x="372.65" y="32.80" width="3.70" height="3.60" fill="#f8e000" />
<rect x="372.65" y="39.14" width="3.70" height="3.60" fill="#0c3b6c" />
<use href="#cg" x="374.50" y="47.27"/>
<use href="#cg" x="374.50" y="53.61"/>
<use href="#cg" x="374.50" y="59.94"/>
<use href="#cK" x="374.50" y="66.28"/>
<use href="#cg" x="374.50" y="72.61"/>
<use href="#cg" x="374.50" y="78.94"/>
<use href="#cg" x="374.50" y="85.28"/>
<use href="#cg" x="374.50" y="91.62"/>
<use href="#cg" x="374.50" y="97.95"/>
<use href="#cg" x="374.50" y="104.28"/>
<use href="#cg" x="374.50" y="110.62"/>
<use href="#cg" x="374.50" y="116.96"/>
<use href="#cg" x="374.50" y="123.29"/>
<use href="#cg" x="374.50" y="129.62"/>
<use href="#cg" x="374.50" y="135.96"/>
<use href="#cg" x="374.50" y="142.29"/>
<use href="#cg" x="374.50" y="148.63"/>
<use href="#cg" x="374.50" y="154.97"/>
<use href="#cg" x="374.50" y="161.30"/>
<rect x="377.25" y="32.80" width="3.70" height="3.60" fill="#d85a10" />
<rect x="377.25" y="39.14" width="3.70" height="3.60" fill="#0c3b6c" />
<use href="#cg" x="379.11" y="47.27"/>
<use href="#cg" x="379.11" y="53.61"/>
<use href="#cg" x="379.11" y="59.94"/>
<use href="#cg" x="379.11" y="66.28"/>
<use href="#cX" x="379.11" y="72.61"/>
<use href="#cg" x="379.11" y="78.94"/>
<use href="#cg" x="379.11" y="85.28"/>
<use href="#cg" x="379.11" y="91.62"/>
<use href="#cP" x="379.11" y="97.95"/>
<use href="#cK" x="379.11" y="104.28"/>
<use href="#cg" x="379.11" y="110.62"/>
<use href="#cg" x="379.11" y="116.96"/>
<use href="#cg" x="379.11" y="123.29"/>
<use href="#cg" x="379.11" y="129.62"/>
<use href="#cg" x="379.11" y="135.96"/>
<use href="#cg" x="379.11" y="142.29"/>
<use href="#cg" x="379.11" y="148.63"/>
<use href="#cg" x="379.11" y="154.97"/>
<use href="#cg" x="379.11" y="161.30"/>
<rect x="381.86" y="32.80" width="3.70" height="3.60" fill="#f0c000" />
<rect x="381.86" y="39.14" width="3.70" height="3.60" fill="#0c3b6c" />
<use href="#cg" x="383.71" y="47.27"/>
<use href="#cg" x="383.71" y="53.61"/>
<use href="#cg" x="383.71" y="59.94"/>
<use href="#cg" x="383.71" y="66.28"/>
<use href="#cP" x="383.71" y="72.61"/>
<use href="#cP" x="383.71" y="78.94"/>
<use href="#cG" x="383.71" y="85.28"/>
<use href="#cP" x="383.71" y="91.62"/>
<use href="#cg" x="383.71" y="97.95"/>
<use href="#cK" x="383.71" y="104.28"/>
<use href="#cg" x="383.71" y="110.62"/>
<use href="#cg" x="383.71" y="116.96"/>
<use href="#cg" x="383.71" y="123.29"/>
<use href="#cg" x="383.71" y="129.62"/>
<use href="#cg" x="383.71" y="135.96"/>
<use href="#cg" x="383.71" y="142.29"/>
<use href="#cg" x="383.71" y="148.63"/>
<use href="#cg" x="383.71" y="154.97"/>
<use href="#cg" x="383.71" y="161.30"/>
<rect x="386.47" y="39.14" width="3.70" height="3.60" fill="#0c3b6c" />
<use href="#cg" x="388.32" y="47.27"/>
<use href="#cg" x="388.32" y="53.61"/>
<use href="#cg" x="388.32" y="59.94"/>
<use href="#cg" x="388.32" y="66.28"/>
<use href="#cG" x="388.32" y="72.61"/>
<use href="#cg" x="388.32" y="78.94"/>
<use href="#cg" x="388.32" y="85.28"/>
<use href="#cg" x="388.32" y="91.62"/>
<use href="#cg" x="388.32" y="97.95"/>
<use href="#cg" x="388.32" y="104.28"/>
<use href="#cg" x="388.32" y="110.62"/>
<use href="#cg" x="388.32" y="116.96"/>
<use href="#cg" x="388.32" y="123.29"/>
<use href="#cg" x="388.32" y="129.62"/>
<use href="#cg" x="388.32" y="135.96"/>
<use href="#cg" x="388.32" y="142.29"/>
<use href="#cg" x="388.32" y="148.63"/>
<use href="#cg" x="388.32" y="154.97"/>
<use href="#cg" x="388.32" y="161.30"/>
<rect x="391.08" y="32.80" width="3.70" height="3.60" fill="#e07a10" />
<rect x="391.08" y="39.14" width="3.70" height="3.60" fill="#0c3b6c" />
<use href="#cg" x="392.93" y="47.27"/>
<use href="#cg" x="392.93" y="53.61"/>
<use href="#cg" x="392.93" y="59.94"/>
<use href="#cg" x="392.93" y="66.28"/>
<use href="#cg" x="392.93" y="72.61"/>
<use href="#cg" x="392.93" y="78.94"/>
<use href="#cg" x="392.93" y="85.28"/>
<use href="#cG" x="392.93" y="91.62"/>
<use href="#cg" x="392.93" y="97.95"/>
<use href="#cg" x="392.93" y="104.28"/>
<use href="#cG" x="392.93" y="110.62"/>
<use href="#cg" x="392.93" y="116.96"/>
<use href="#cg" x="392.93" y="123.29"/>
<use href="#cP" x="392.93" y="129.62"/>
<use href="#cg" x="392.93" y="135.96"/>
<use href="#cg" x="392.93" y="142.29"/>
<use href="#cg" x="392.93" y="148.63"/>
<use href="#cg" x="392.93" y="154.97"/>
<use href="#cg" x="392.93" y="161.30"/>
<rect x="395.68" y="39.14" width="3.70" height="3.60" fill="#0c3b6c" />
<use href="#cg" x="397.53" y="47.27"/>
<use href="#cg" x="397.53" y="53.61"/>
<use href="#cg" x="397.53" y="59.94"/>
<use href="#cg" x="397.53" y="66.28"/>
<use href="#cg" x="397.53" y="72.61"/>
<use href="#cg" x="397.53" y="78.94"/>
<use href="#cg" x="397.53" y="85.28"/>
<use href="#cg" x="397.53" y="91.62"/>
<use href="#cg" x="397.53" y="97.95"/>
<use href="#cg" x="397.53" y="104.28"/>
<use href="#cg" x="397.53" y="110.62"/>
<use href="#cg" x="397.53" y="116.96"/>
<use href="#cg" x="397.53" y="123.29"/>
<use href="#cg" x="397.53" y="129.62"/>
<use href="#cg" x="397.53" y="135.96"/>
<use href="#cg" x="397.53" y="142.29"/>
<use href="#cg" x="397.53" y="148.63"/>
<use href="#cG" x="397.53" y="154.97"/>
<use href="#cg" x="397.53" y="161.30"/>
<rect x="400.29" y="32.80" width="3.70" height="3.60" fill="#f0c000" />
<rect x="400.29" y="39.14" width="3.70" height="3.60" fill="#0c3b6c" />
<use href="#cg" x="402.14" y="47.27"/>
<use href="#cg" x="402.14" y="53.61"/>
<use href="#cg" x="402.14" y="59.94"/>
<use href="#cg" x="402.14" y="66.28"/>
<use href="#cg" x="402.14" y="72.61"/>
<use href="#cg" x="402.14" y="78.94"/>
<use href="#cg" x="402.14" y="85.28"/>
<use href="#cg" x="402.14" y="91.62"/>
<use href="#cg" x="402.14" y="97.95"/>
<use href="#cg" x="402.14" y="104.28"/>
<use href="#cg" x="402.14" y="110.62"/>
<use href="#cg" x="402.14" y="116.96"/>
<use href="#cP" x="402.14" y="123.29"/>
<use href="#cg" x="402.14" y="129.62"/>
<use href="#cg" x="402.14" y="135.96"/>
<use href="#cg" x="402.14" y="142.29"/>
<use href="#cg" x="402.14" y="148.63"/>
<use href="#cg" x="402.14" y="154.97"/>
<use href="#cg" x="402.14" y="161.30"/>
<rect x="404.90" y="32.80" width="3.70" height="3.60" fill="#f8e000" />
<rect x="404.90" y="39.14" width="3.70" height="3.60" fill="#0c3b6c" />
<use href="#cg" x="406.75" y="47.27"/>
<use href="#cg" x="406.75" y="53.61"/>
<use href="#cg" x="406.75" y="59.94"/>
<use href="#cg" x="406.75" y="66.28"/>
<use href="#cg" x="406.75" y="72.61"/>
<use href="#cg" x="406.75" y="78.94"/>
<use href="#cg" x="406.75" y="85.28"/>
<use href="#cg" x="406.75" y="91.62"/>
<use href="#cg" x="406.75" y="97.95"/>
<use href="#cg" x="406.75" y="104.28"/>
<use href="#cg" x="406.75" y="110.62"/>
<use href="#cg" x="406.75" y="116.96"/>
<use href="#cg" x="406.75" y="123.29"/>
<use href="#cg" x="406.75" y="129.62"/>
<use href="#cg" x="406.75" y="135.96"/>
<use href="#cg" x="406.75" y="142.29"/>
<use href="#cg" x="406.75" y="148.63"/>
<use href="#cg" x="406.75" y="154.97"/>
<use href="#cg" x="406.75" y="161.30"/>
<rect x="409.50" y="32.80" width="3.70" height="3.60" fill="#f8e000" />
<rect x="409.50" y="39.14" width="3.70" height="3.60" fill="#0c3b6c" />
<use href="#cg" x="411.35" y="47.27"/>
<use href="#cg" x="411.35" y="53.61"/>
<use href="#cg" x="411.35" y="59.94"/>
<use href="#cg" x="411.35" y="66.28"/>
<use href="#cg" x="411.35" y="72.61"/>
<use href="#cg" x="411.35" y="78.94"/>
<use href="#cg" x="411.35" y="85.28"/>
<use href="#cg" x="411.35" y="91.62"/>
<use href="#cg" x="411.35" y="97.95"/>
<use href="#cg" x="411.35" y="104.28"/>
<use href="#cg" x="411.35" y="110.62"/>
<use href="#cg" x="411.35" y="116.96"/>
<use href="#cg" x="411.35" y="123.29"/>
<use href="#cg" x="411.35" y="129.62"/>
<use href="#cg" x="411.35" y="135.96"/>
<use href="#cg" x="411.35" y="142.29"/>
<use href="#cg" x="411.35" y="148.63"/>
<use href="#cg" x="411.35" y="154.97"/>
<use href="#cg" x="411.35" y="161.30"/>
<rect x="414.11" y="32.80" width="3.70" height="3.60" fill="#c9c585" />
<rect x="414.11" y="39.14" width="3.70" height="3.60" fill="#0c3b6c" />
<use href="#cg" x="415.96" y="47.27"/>
<use href="#cg" x="415.96" y="53.61"/>
<use href="#cg" x="415.96" y="59.94"/>
<use href="#cg" x="415.96" y="66.28"/>
<use href="#cg" x="415.96" y="72.61"/>
<use href="#cg" x="415.96" y="78.94"/>
<use href="#cg" x="415.96" y="85.28"/>
<use href="#cg" x="415.96" y="91.62"/>
<use href="#cg" x="415.96" y="97.95"/>
<use href="#cg" x="415.96" y="104.28"/>
<use href="#cg" x="415.96" y="110.62"/>
<use href="#cg" x="415.96" y="116.96"/>
<use href="#cg" x="415.96" y="123.29"/>
<use href="#cg" x="415.96" y="129.62"/>
<use href="#cg" x="415.96" y="135.96"/>
<use href="#cg" x="415.96" y="142.29"/>
<use href="#cg" x="415.96" y="148.63"/>
<use href="#cg" x="415.96" y="154.97"/>
<use href="#cg" x="415.96" y="161.30"/>
<rect x="418.72" y="32.80" width="3.70" height="3.60" fill="#e6de1c" />
<rect x="418.72" y="39.14" width="3.70" height="3.60" fill="#0c3b6c" />
<use href="#cg" x="420.57" y="47.27"/>
<use href="#cg" x="420.57" y="53.61"/>
<use href="#cg" x="420.57" y="59.94"/>
<use href="#cg" x="420.57" y="66.28"/>
<use href="#cg" x="420.57" y="72.61"/>
<use href="#cg" x="420.57" y="78.94"/>
<use href="#cg" x="420.57" y="85.28"/>
<use href="#cg" x="420.57" y="91.62"/>
<use href="#cg" x="420.57" y="97.95"/>
<use href="#cg" x="420.57" y="104.28"/>
<use href="#cg" x="420.57" y="110.62"/>
<use href="#cg" x="420.57" y="116.96"/>
<use href="#cg" x="420.57" y="123.29"/>
<use href="#cg" x="420.57" y="129.62"/>
<use href="#cg" x="420.57" y="135.96"/>
<use href="#cg" x="420.57" y="142.29"/>
<use href="#cg" x="420.57" y="148.63"/>
<use href="#cg" x="420.57" y="154.97"/>
<use href="#cg" x="420.57" y="161.30"/>
<rect x="423.32" y="32.80" width="3.70" height="3.60" fill="#f8e000" />
<rect x="423.32" y="39.14" width="3.70" height="3.60" fill="#0c3b6c" />
<use href="#cg" x="425.18" y="47.27"/>
<use href="#cg" x="425.18" y="53.61"/>
<use href="#cg" x="425.18" y="59.94"/>
<use href="#cg" x="425.18" y="66.28"/>
<use href="#cg" x="425.18" y="72.61"/>
<use href="#cg" x="425.18" y="78.94"/>
<use href="#cg" x="425.18" y="85.28"/>
<use href="#cg" x="425.18" y="91.62"/>
<use href="#cg" x="425.18" y="97.95"/>
<use href="#cg" x="425.18" y="104.28"/>
<use href="#cg" x="425.18" y="110.62"/>
<use href="#cg" x="425.18" y="116.96"/>
<use href="#cg" x="425.18" y="123.29"/>
<use href="#cg" x="425.18" y="129.62"/>
<use href="#cg" x="425.18" y="135.96"/>
<use href="#cg" x="425.18" y="142.29"/>
<use href="#cg" x="425.18" y="148.63"/>
<use href="#cg" x="425.18" y="154.97"/>
<use href="#cg" x="425.18" y="161.30"/>
<rect x="427.93" y="32.80" width="3.70" height="3.60" fill="#e6de1c" />
<rect x="427.93" y="39.14" width="3.70" height="3.60" fill="#0c3b6c" />
<use href="#cg" x="429.78" y="47.27"/>
<use href="#cg" x="429.78" y="53.61"/>
<use href="#cg" x="429.78" y="59.94"/>
<use href="#cg" x="429.78" y="66.28"/>
<use href="#cg" x="429.78" y="72.61"/>
<use href="#cg" x="429.78" y="78.94"/>
<use href="#cg" x="429.78" y="85.28"/>
<use href="#cg" x="429.78" y="91.62"/>
<use href="#cg" x="429.78" y="97.95"/>
<use href="#cg" x="429.78" y="104.28"/>
<use href="#cg" x="429.78" y="110.62"/>
<use href="#cg" x="429.78" y="116.96"/>
<use href="#cg" x="429.78" y="123.29"/>
<use href="#cg" x="429.78" y="129.62"/>
<use href="#cg" x="429.78" y="135.96"/>
<use href="#cg" x="429.78" y="142.29"/>
<use href="#cg" x="429.78" y="148.63"/>
<use href="#cg" x="429.78" y="154.97"/>
<use href="#cg" x="429.78" y="161.30"/>
<rect x="432.54" y="32.80" width="3.70" height="3.60" fill="#f8e000" />
<rect x="432.54" y="39.14" width="3.70" height="3.60" fill="#0c3b6c" />
<use href="#cg" x="434.39" y="47.27"/>
<use href="#cg" x="434.39" y="53.61"/>
<use href="#cg" x="434.39" y="59.94"/>
<use href="#cg" x="434.39" y="66.28"/>
<use href="#cg" x="434.39" y="72.61"/>
<use href="#cg" x="434.39" y="78.94"/>
<use href="#cg" x="434.39" y="85.28"/>
<use href="#cg" x="434.39" y="91.62"/>
<use href="#cg" x="434.39" y="97.95"/>
<use href="#cg" x="434.39" y="104.28"/>
<use href="#cg" x="434.39" y="110.62"/>
<use href="#cg" x="434.39" y="116.96"/>
<use href="#cg" x="434.39" y="123.29"/>
<use href="#cg" x="434.39" y="129.62"/>
<use href="#cg" x="434.39" y="135.96"/>
<use href="#cg" x="434.39" y="142.29"/>
<use href="#cg" x="434.39" y="148.63"/>
<use href="#cg" x="434.39" y="154.97"/>
<use href="#cg" x="434.39" y="161.30"/>
<rect x="437.15" y="32.80" width="3.70" height="3.60" fill="#e07a10" />
<rect x="437.15" y="39.14" width="3.70" height="3.60" fill="#0c3b6c" />
<use href="#cg" x="439.00" y="47.27"/>
<use href="#cg" x="439.00" y="53.61"/>
<use href="#cg" x="439.00" y="59.94"/>
<use href="#cg" x="439.00" y="66.28"/>
<use href="#cg" x="439.00" y="72.61"/>
<use href="#cg" x="439.00" y="78.94"/>
<use href="#cg" x="439.00" y="85.28"/>
<use href="#cg" x="439.00" y="91.62"/>
<use href="#cg" x="439.00" y="97.95"/>
<use href="#cg" x="439.00" y="104.28"/>
<use href="#cg" x="439.00" y="110.62"/>
<use href="#cg" x="439.00" y="116.96"/>
<use href="#cg" x="439.00" y="123.29"/>
<use href="#cg" x="439.00" y="129.62"/>
<use href="#cg" x="439.00" y="135.96"/>
<use href="#cg" x="439.00" y="142.29"/>
<use href="#cg" x="439.00" y="148.63"/>
<use href="#cg" x="439.00" y="154.97"/>
<use href="#cg" x="439.00" y="161.30"/>
<rect x="441.75" y="32.80" width="3.70" height="3.60" fill="#d2200e" />
<rect x="441.75" y="39.14" width="3.70" height="3.60" fill="#0c3b6c" />
<use href="#cg" x="443.60" y="47.27"/>
<use href="#cg" x="443.60" y="53.61"/>
<use href="#cg" x="443.60" y="59.94"/>
<use href="#cg" x="443.60" y="66.28"/>
<use href="#cg" x="443.60" y="72.61"/>
<use href="#cg" x="443.60" y="78.94"/>
<use href="#cg" x="443.60" y="85.28"/>
<use href="#cg" x="443.60" y="91.62"/>
<use href="#cg" x="443.60" y="97.95"/>
<use href="#cg" x="443.60" y="104.28"/>
<use href="#cg" x="443.60" y="110.62"/>
<use href="#cg" x="443.60" y="116.96"/>
<use href="#cg" x="443.60" y="123.29"/>
<use href="#cg" x="443.60" y="129.62"/>
<use href="#cg" x="443.60" y="135.96"/>
<use href="#cg" x="443.60" y="142.29"/>
<use href="#cg" x="443.60" y="148.63"/>
<use href="#cg" x="443.60" y="154.97"/>
<use href="#cg" x="443.60" y="161.30"/>
<rect x="446.36" y="32.80" width="3.70" height="3.60" fill="#d2200e" />
<rect x="446.36" y="39.14" width="3.70" height="3.60" fill="#0c3b6c" />
<use href="#cg" x="448.21" y="47.27"/>
<use href="#cg" x="448.21" y="53.61"/>
<use href="#cg" x="448.21" y="59.94"/>
<use href="#cg" x="448.21" y="66.28"/>
<use href="#cg" x="448.21" y="72.61"/>
<use href="#cg" x="448.21" y="78.94"/>
<use href="#cg" x="448.21" y="85.28"/>
<use href="#cg" x="448.21" y="91.62"/>
<use href="#cg" x="448.21" y="97.95"/>
<use href="#cg" x="448.21" y="104.28"/>
<use href="#cg" x="448.21" y="110.62"/>
<use href="#cg" x="448.21" y="116.96"/>
<use href="#cg" x="448.21" y="123.29"/>
<use href="#cg" x="448.21" y="129.62"/>
<use href="#cg" x="448.21" y="135.96"/>
<use href="#cg" x="448.21" y="142.29"/>
<use href="#cg" x="448.21" y="148.63"/>
<use href="#cg" x="448.21" y="154.97"/>
<use href="#cg" x="448.21" y="161.30"/>
<path d="M253.1 22.4 V165.2 Q253.1 166.3 254.2 166.3 H304.1 Q305.2 166.3 305.2 165.2 V22.4" fill="none" stroke="#5a5a5a" stroke-width="1.5"/>
<path d="M307.3 22.4 V165.2 Q307.3 166.3 308.4 166.3 H450.4 Q451.5 166.3 451.5 165.2 V22.4" fill="none" stroke="#222" stroke-width="1.0"/>
<rect x="305.90" y="22.40" width="0.70" height="143.40" fill="#9a9a9a" />
<text transform="translate(257.55,170.0) rotate(-90)" font-size="4.3" text-anchor="end" fill="#222" class="n">Pt-136</text>
<text transform="translate(262.18,170.0) rotate(-90)" font-size="4.3" text-anchor="end" fill="#222" class="n">Pt-136</text>
<text transform="translate(266.81,170.0) rotate(-90)" font-size="4.3" text-anchor="end" fill="#222" class="n">Pt-1136</text>
<text transform="translate(271.44,170.0) rotate(-90)" font-size="4.3" text-anchor="end" fill="#222" class="n">Pt-1136</text>
<text transform="translate(276.07,170.0) rotate(-90)" font-size="4.3" text-anchor="end" fill="#222" class="n">Pt-36</text>
<text transform="translate(280.70,170.0) rotate(-90)" font-size="4.3" text-anchor="end" fill="#222" class="n">Pt-36</text>
<text transform="translate(285.33,170.0) rotate(-90)" font-size="4.3" text-anchor="end" fill="#222" class="n">Pt-136</text>
<text transform="translate(289.96,170.0) rotate(-90)" font-size="4.3" text-anchor="end" fill="#222" class="n">Pt-1136</text>
<text transform="translate(294.59,170.0) rotate(-90)" font-size="4.3" text-anchor="end" fill="#222" class="n">Pt-136</text>
<text transform="translate(299.22,170.0) rotate(-90)" font-size="4.3" text-anchor="end" fill="#222" class="n">Pt-136</text>
<text transform="translate(303.85,170.0) rotate(-90)" font-size="4.3" text-anchor="end" fill="#222" class="n">Pt-1136</text>
<text transform="translate(311.50,170.0) rotate(-90)" font-size="4.3" text-anchor="end" fill="#222" class="n">Pt-36</text>
<text transform="translate(316.11,170.0) rotate(-90)" font-size="4.3" text-anchor="end" fill="#222" class="n">Pt-36</text>
<text transform="translate(320.71,170.0) rotate(-90)" font-size="4.3" text-anchor="end" fill="#222" class="n">Pt-136</text>
<text transform="translate(325.32,170.0) rotate(-90)" font-size="4.3" text-anchor="end" fill="#222" class="n">Pt-136</text>
<text transform="translate(329.93,170.0) rotate(-90)" font-size="4.3" text-anchor="end" fill="#222" class="n">Pt-136</text>
<text transform="translate(334.54,170.0) rotate(-90)" font-size="4.3" text-anchor="end" fill="#222" class="n">Pt-36</text>
<text transform="translate(339.14,170.0) rotate(-90)" font-size="4.3" text-anchor="end" fill="#222" class="n">Pt-136</text>
<text transform="translate(343.75,170.0) rotate(-90)" font-size="4.3" text-anchor="end" fill="#222" class="n">Pt-136</text>
<text transform="translate(348.36,170.0) rotate(-90)" font-size="4.3" text-anchor="end" fill="#222" class="n">Pt-136</text>
<text transform="translate(352.96,170.0) rotate(-90)" font-size="4.3" text-anchor="end" fill="#222" class="n">Pt-136</text>
<text transform="translate(357.57,170.0) rotate(-90)" font-size="4.3" text-anchor="end" fill="#222" class="n">Pt-136</text>
<text transform="translate(362.18,170.0) rotate(-90)" font-size="4.3" text-anchor="end" fill="#222" class="n">Pt-136</text>
<text transform="translate(366.78,170.0) rotate(-90)" font-size="4.3" text-anchor="end" fill="#222" class="n">Pt-136</text>
<text transform="translate(371.39,170.0) rotate(-90)" font-size="4.3" text-anchor="end" fill="#222" class="n">Pt-136</text>
<text transform="translate(376.00,170.0) rotate(-90)" font-size="4.3" text-anchor="end" fill="#222" class="n">Pt-136</text>
<text transform="translate(380.61,170.0) rotate(-90)" font-size="4.3" text-anchor="end" fill="#222" class="n">Pt-136</text>
<text transform="translate(385.21,170.0) rotate(-90)" font-size="4.3" text-anchor="end" fill="#222" class="n">Pt-1136</text>
<text transform="translate(389.82,170.0) rotate(-90)" font-size="4.3" text-anchor="end" fill="#222" class="n">Pt-136</text>
<text transform="translate(394.43,170.0) rotate(-90)" font-size="4.3" text-anchor="end" fill="#222" class="n">Pt-136</text>
<text transform="translate(399.03,170.0) rotate(-90)" font-size="4.3" text-anchor="end" fill="#222" class="n">Pt-36</text>
<text transform="translate(403.64,170.0) rotate(-90)" font-size="4.3" text-anchor="end" fill="#222" class="n">Pt-1136</text>
<text transform="translate(408.25,170.0) rotate(-90)" font-size="4.3" text-anchor="end" fill="#222" class="n">Pt-1136</text>
<text transform="translate(412.85,170.0) rotate(-90)" font-size="4.3" text-anchor="end" fill="#222" class="n">Pt-136</text>
<text transform="translate(417.46,170.0) rotate(-90)" font-size="4.3" text-anchor="end" fill="#222" class="n">Pt-136</text>
<text transform="translate(422.07,170.0) rotate(-90)" font-size="4.3" text-anchor="end" fill="#222" class="n">Pt-136</text>
<text transform="translate(426.68,170.0) rotate(-90)" font-size="4.3" text-anchor="end" fill="#222" class="n">Pt-136</text>
<text transform="translate(431.28,170.0) rotate(-90)" font-size="4.3" text-anchor="end" fill="#222" class="n">Pt-136</text>
<text transform="translate(435.89,170.0) rotate(-90)" font-size="4.3" text-anchor="end" fill="#222" class="n">Pt-136</text>
<text transform="translate(440.50,170.0) rotate(-90)" font-size="4.3" text-anchor="end" fill="#222" class="n">Pt-1136</text>
<text transform="translate(445.10,170.0) rotate(-90)" font-size="4.3" text-anchor="end" fill="#222" class="n">Pt-136</text>
<text transform="translate(449.71,170.0) rotate(-90)" font-size="4.3" text-anchor="end" fill="#222" class="n">Pt-136</text>
<line x1="454.70" y1="41.90" x2="495.00" y2="41.90" stroke="#222" stroke-width="0.90" />
<line x1="458.00" y1="39.30" x2="458.00" y2="41.90" stroke="#222" stroke-width="0.80" />
<text x="458.00" y="35.54" font-size="5.40" text-anchor="middle" font-weight="normal" fill="#222" >0</text>
<line x1="466.55" y1="39.30" x2="466.55" y2="41.90" stroke="#222" stroke-width="0.80" />
<text x="466.55" y="35.54" font-size="5.40" text-anchor="middle" font-weight="normal" fill="#222" >2</text>
<line x1="475.10" y1="39.30" x2="475.10" y2="41.90" stroke="#222" stroke-width="0.80" />
<text x="475.10" y="35.54" font-size="5.40" text-anchor="middle" font-weight="normal" fill="#222" >4</text>
<line x1="483.65" y1="39.30" x2="483.65" y2="41.90" stroke="#222" stroke-width="0.80" />
<text x="483.65" y="35.54" font-size="5.40" text-anchor="middle" font-weight="normal" fill="#222" >6</text>
<line x1="492.20" y1="39.30" x2="492.20" y2="41.90" stroke="#222" stroke-width="0.80" />
<text x="492.20" y="35.54" font-size="5.40" text-anchor="middle" font-weight="normal" fill="#222" >8</text>
<text x="497.80" y="41.73" font-size="5.35" text-anchor="start" font-weight="normal" fill="#222" >P-value</text>
<rect x="458.00" y="45.37" width="12.83" height="3.80" fill="#9c1c2e" />
<rect x="470.82" y="45.37" width="21.38" height="3.80" fill="#11427a" />
<rect x="458.00" y="51.70" width="4.28" height="3.80" fill="#9c1c2e" />
<rect x="462.27" y="51.70" width="25.65" height="3.80" fill="#11427a" />
<rect x="458.00" y="58.04" width="4.28" height="3.80" fill="#9c1c2e" />
<rect x="462.27" y="58.04" width="21.38" height="3.80" fill="#11427a" />
<rect x="458.00" y="64.38" width="12.83" height="3.80" fill="#9c1c2e" />
<rect x="470.82" y="64.38" width="8.55" height="3.80" fill="#11427a" />
<rect x="458.00" y="70.71" width="8.55" height="3.80" fill="#9c1c2e" />
<rect x="466.55" y="70.71" width="12.83" height="3.80" fill="#11427a" />
<rect x="458.00" y="77.04" width="4.28" height="3.80" fill="#9c1c2e" />
<rect x="462.27" y="77.04" width="12.83" height="3.80" fill="#11427a" />
<rect x="458.00" y="83.38" width="8.55" height="3.80" fill="#9c1c2e" />
<rect x="466.55" y="83.38" width="8.55" height="3.80" fill="#11427a" />
<rect x="458.00" y="89.72" width="4.28" height="3.80" fill="#9c1c2e" />
<rect x="462.27" y="89.72" width="12.83" height="3.80" fill="#11427a" />
<rect x="458.00" y="96.05" width="4.28" height="3.80" fill="#9c1c2e" />
<rect x="462.27" y="96.05" width="12.83" height="3.80" fill="#11427a" />
<rect x="458.00" y="102.38" width="12.83" height="3.80" fill="#11427a" />
<rect x="458.00" y="108.72" width="8.55" height="3.80" fill="#9c1c2e" />
<rect x="466.55" y="108.72" width="4.28" height="3.80" fill="#11427a" />
<rect x="458.00" y="115.06" width="8.55" height="3.80" fill="#11427a" />
<rect x="458.00" y="121.39" width="4.28" height="3.80" fill="#9c1c2e" />
<rect x="462.27" y="121.39" width="4.28" height="3.80" fill="#11427a" />
<rect x="458.00" y="127.72" width="4.28" height="3.80" fill="#9c1c2e" />
<rect x="462.27" y="127.72" width="4.28" height="3.80" fill="#11427a" />
<rect x="458.00" y="134.06" width="8.55" height="3.80" fill="#11427a" />
<rect x="458.00" y="140.40" width="4.28" height="3.80" fill="#9c1c2e" />
<rect x="462.27" y="140.40" width="4.28" height="3.80" fill="#11427a" />
<rect x="458.00" y="146.73" width="8.55" height="3.80" fill="#9c1c2e" />
<rect x="458.00" y="153.07" width="4.28" height="3.80" fill="#9c1c2e" />
<rect x="462.27" y="153.07" width="4.28" height="3.80" fill="#11427a" />
<rect x="458.00" y="159.40" width="4.28" height="3.80" fill="#9c1c2e" />
<rect x="462.27" y="159.40" width="4.28" height="3.80" fill="#11427a" />
<text x="482.30" y="68.15" font-size="5.20" text-anchor="start" font-weight="normal" fill="#222" >0.15</text>
<text x="469.50" y="150.50" font-size="5.20" text-anchor="start" font-weight="normal" fill="#222" >0.08</text>
<text x="482.00" y="112.72" font-size="5.05" text-anchor="start" font-weight="normal" fill="#222" >Ki-67 (%)</text>
<rect x="481.30" y="117.85" width="3.50" height="3.50" fill="#c8c8c8" />
<text x="488.40" y="121.51" font-size="5.30" text-anchor="start" font-weight="normal" fill="#222" >10</text>
<rect x="481.30" y="128.95" width="3.50" height="3.50" fill="#f8e000" />
<text x="488.40" y="132.61" font-size="5.30" text-anchor="start" font-weight="normal" fill="#222" >50</text>
<rect x="481.30" y="140.05" width="3.50" height="3.50" fill="#d2200e" />
<text x="488.40" y="143.71" font-size="5.30" text-anchor="start" font-weight="normal" fill="#222" >100</text>
<text x="6.50" y="214.26" font-size="12.10" text-anchor="start" font-weight="bold" fill="#000" >C</text>
<text x="147.40" y="222.51" font-size="6.15" text-anchor="middle" font-weight="normal" fill="#222" >Chromosome 17</text>
<path d="M33.0 307.7 V223.6 H97.7 V307.7" fill="none" stroke="#444" stroke-width="0.8"/>
<path d="M195.2 307.4 V223.6 Q195.2 222.6 196.2 222.6 H237.7 Q238.7 222.6 238.7 223.6 V307.4" fill="none" stroke="#444" stroke-width="0.8"/>
<rect x="33.20" y="234.50" width="8.90" height="3.30" fill="#fff" />
<rect x="42.10" y="234.50" width="9.80" height="3.30" fill="#c4c4c4" />
<rect x="51.90" y="234.50" width="12.10" height="3.30" fill="#fff" />
<rect x="64.00" y="234.50" width="14.40" height="3.30" fill="#a2a2a2" />
<rect x="78.40" y="234.50" width="21.60" height="3.30" fill="#fff" />
<rect x="103.00" y="234.50" width="21.90" height="3.30" fill="#fff" />
<rect x="124.90" y="234.50" width="15.10" height="3.30" fill="#c4c4c4" />
<rect x="140.00" y="234.50" width="5.00" height="3.30" fill="#fff" />
<rect x="145.00" y="234.50" width="6.20" height="3.30" fill="#b0b0b0" />
<rect x="151.20" y="234.50" width="11.50" height="3.30" fill="#fff" />
<rect x="162.70" y="234.50" width="6.90" height="3.30" fill="#c4c4c4" />
<rect x="169.60" y="234.50" width="8.10" height="3.30" fill="#fff" />
<rect x="177.70" y="234.50" width="15.60" height="3.30" fill="#a2a2a2" />
<rect x="193.30" y="234.50" width="3.40" height="3.30" fill="#707070" />
<rect x="196.70" y="234.50" width="2.30" height="3.30" fill="#fff" />
<rect x="199.00" y="234.50" width="10.20" height="3.30" fill="#a2a2a2" />
<rect x="209.20" y="234.50" width="5.30" height="3.30" fill="#fff" />
<rect x="214.50" y="234.50" width="2.50" height="3.30" fill="#c4c4c4" />
<rect x="217.00" y="234.50" width="9.90" height="3.30" fill="#fff" />
<rect x="226.90" y="234.50" width="11.70" height="3.30" fill="#a2a2a2" />
<rect x="238.60" y="234.50" width="10.40" height="3.30" fill="#fff" />
<rect x="249.00" y="234.50" width="1.40" height="3.30" fill="#ccc" />
<rect x="250.40" y="234.50" width="15.60" height="3.30" fill="#fff" />
<path d="M34.9 234.50 H97.5 L101.3 236.15 L105 234.50 H265.6 A1.65 1.65 0 0 1 265.6 237.80 H105 L101.3 236.15 L97.5 237.80 H34.9 A1.65 1.65 0 0 1 34.9 234.50 Z" fill="none" stroke="#3a3a3a" stroke-width="0.8"/>
<path d="M97.5 234.20 L101.3 236.15 L105 234.20 Z M97.5 238.10 L101.3 236.15 L105 238.10 Z" fill="#fff"/>
<path d="M97.5 234.50 L101.3 236.15 L105 234.50 M97.5 237.80 L101.3 236.15 L105 237.80" fill="none" stroke="#444" stroke-width="0.6"/>
<line x1="33.00" y1="249.40" x2="267.50" y2="249.40" stroke="#333" stroke-width="0.80" />
<line x1="33.00" y1="252.30" x2="267.50" y2="252.30" stroke="#333" stroke-width="0.80" />
<line x1="33.00" y1="246.60" x2="33.00" y2="249.40" stroke="#333" stroke-width="0.70" />
<text x="33.00" y="244.67" font-size="5.20" text-anchor="middle" font-weight="normal" fill="#222" >0</text>
<line x1="61.85" y1="246.60" x2="61.85" y2="249.40" stroke="#333" stroke-width="0.70" />
<text x="61.85" y="244.67" font-size="5.20" text-anchor="middle" font-weight="normal" fill="#222" >10 Mb</text>
<line x1="90.70" y1="246.60" x2="90.70" y2="249.40" stroke="#333" stroke-width="0.70" />
<text x="90.70" y="244.67" font-size="5.20" text-anchor="middle" font-weight="normal" fill="#222" >20 Mb</text>
<line x1="119.55" y1="246.60" x2="119.55" y2="249.40" stroke="#333" stroke-width="0.70" />
<text x="119.55" y="244.67" font-size="5.20" text-anchor="middle" font-weight="normal" fill="#222" >30 Mb</text>
<line x1="148.40" y1="246.60" x2="148.40" y2="249.40" stroke="#333" stroke-width="0.70" />
<text x="148.40" y="244.67" font-size="5.20" text-anchor="middle" font-weight="normal" fill="#222" >40 Mb</text>
<line x1="177.25" y1="246.60" x2="177.25" y2="249.40" stroke="#333" stroke-width="0.70" />
<text x="177.25" y="244.67" font-size="5.20" text-anchor="middle" font-weight="normal" fill="#222" >50 Mb</text>
<line x1="206.10" y1="246.60" x2="206.10" y2="249.40" stroke="#333" stroke-width="0.70" />
<text x="206.10" y="244.67" font-size="5.20" text-anchor="middle" font-weight="normal" fill="#222" >60 Mb</text>
<line x1="234.95" y1="246.60" x2="234.95" y2="249.40" stroke="#333" stroke-width="0.70" />
<text x="234.95" y="244.67" font-size="5.20" text-anchor="middle" font-weight="normal" fill="#222" >70 Mb</text>
<line x1="263.80" y1="246.60" x2="263.80" y2="249.40" stroke="#333" stroke-width="0.70" />
<text x="263.80" y="244.67" font-size="5.20" text-anchor="middle" font-weight="normal" fill="#222" >80 Mb</text>
<line x1="24.2" y1="250.2" x2="30.8" y2="250.2" stroke="#444" stroke-width="0.6" stroke-dasharray="0.9 0.8"/>
<text x="26.00" y="270.84" font-size="5.10" text-anchor="end" font-weight="normal" fill="#222" >AH-t</text>
<text x="26.00" y="303.24" font-size="5.10" text-anchor="end" font-weight="normal" fill="#222" >AH-DN</text>
<path d="M33.00 268.00 H33.00 V270.20 H41.50 V268.90 H58.50 V270.60 H66.50 V269.20 H68.50 V270.40 H77.00 V269.60 H97.50 V269.50 H98.50 V268.00 H117.00 V269.80 H122.50 V268.00 H136.00 V270.50 H138.50 V271.40 H140.50 V270.50 H142.00 V268.00 H149.50 V269.80 H154.00 V268.00 H162.50 V270.20 H172.00 V268.00 H175.00 V269.20 H193.50 V268.00 H197.00 V276.00 H199.50 V277.20 H200.50 V275.60 H201.50 V274.40 H203.00 V272.40 H206.00 V271.00 H210.00 V268.00 H212.00 V269.40 H225.50 V268.00 H227.50 V273.20 H237.50 V268.00 H248.00 V269.50 H253.00 V268.00 H261.00 V270.00 H266.00 V268.00 H267.00 V268.00 Z" fill="#b5102e"/>
<path d="M33.00 268.00 H41.50 V265.00 H44.00 V263.70 H47.00 V264.80 H49.00 V268.00 H51.50 V259.00 H52.50 V257.70 H53.50 V257.00 H55.50 V257.60 H56.50 V258.60 H58.50 V268.00 H77.00 V266.40 H84.00 V259.50 H85.00 V257.80 H85.50 V257.00 H87.00 V259.20 H88.50 V261.50 H89.00 V266.40 H94.00 V268.00 H108.00 V264.80 H112.50 V268.00 H122.50 V261.60 H127.00 V258.50 H129.50 V257.20 H133.00 V258.50 H134.00 V268.00 H142.00 V264.42 H142.50 V265.18 H144.50 V264.86 H145.00 V262.86 H145.50 V261.96 H148.00 V262.87 H148.50 V261.27 H149.00 V260.68 H150.00 V263.28 H151.50 V265.28 H152.00 V266.13 H154.00 V265.73 H154.50 V264.48 H157.00 V265.75 H159.50 V265.92 H160.00 V265.72 H161.00 V264.99 H162.50 V265.90 H165.00 V268.00 H172.00 V266.50 H176.00 V268.00 H186.00 V266.60 H193.50 V268.00 H210.00 V264.50 H214.00 V266.50 H224.50 V268.00 H238.50 V264.70 H239.00 V264.99 H240.50 V264.73 H243.00 V266.51 H245.00 V267.26 H247.50 V267.36 H248.50 V266.54 H249.50 V266.53 H250.00 V264.93 H250.50 V265.83 H253.00 V265.49 H254.50 V264.84 H255.50 V265.85 H256.50 V265.76 H259.50 V265.60 H260.50 V267.00 H261.00 V267.24 H262.00 V266.80 H266.00 V268.00 H267.00 V268.00 Z" fill="#2d4e86"/>
<line x1="33.00" y1="268.00" x2="267.00" y2="268.00" stroke="#27375a" stroke-width="0.55" />
<path d="M33.00 299.10 H33.00 V302.76 H36.00 V304.17 H38.00 V302.18 H41.00 V304.12 H43.50 V303.79 H45.00 V304.79 H46.50 V306.76 H49.00 V305.91 H51.50 V305.15 H54.50 V305.56 H56.00 V306.88 H57.50 V304.91 H60.00 V304.86 H61.00 V305.66 H62.50 V304.76 H64.00 V303.60 H65.50 V304.14 H66.50 V306.10 H68.00 V305.87 H69.50 V304.42 H71.50 V305.00 H73.00 V304.07 H74.50 V306.11 H76.00 V303.58 H78.50 V303.88 H80.50 V303.49 H82.00 V303.58 H84.00 V304.32 H87.00 V304.56 H90.00 V302.97 H92.00 V304.93 H94.00 V304.61 H96.50 V304.05 H97.50 V302.55 H98.00 V302.60 H98.50 V299.10 H114.00 V300.40 H122.00 V299.10 H130.00 V300.40 H134.00 V299.10 H135.50 V301.50 H141.00 V299.10 H148.00 V300.40 H156.00 V299.10 H177.00 V300.00 H184.00 V299.10 H196.50 V302.80 H201.50 V301.80 H209.00 V299.10 H227.00 V300.90 H238.50 V299.10 H246.00 V300.90 H254.00 V299.10 H260.50 V302.10 H266.00 V299.10 H267.00 V299.10 Z" fill="#b5102e"/>
<path d="M33.00 299.10 H42.00 V298.20 H49.00 V299.10 H51.50 V296.10 H53.00 V294.80 H54.50 V294.20 H56.00 V294.90 H57.00 V296.10 H58.50 V299.10 H77.00 V298.20 H84.00 V296.50 H85.00 V295.40 H88.00 V296.50 H89.00 V297.60 H94.50 V299.10 H106.50 V297.80 H120.00 V297.62 H122.50 V295.68 H124.00 V294.18 H124.50 V293.86 H125.50 V292.96 H127.50 V291.96 H128.00 V292.87 H129.00 V292.28 H130.50 V290.78 H132.00 V291.63 H133.00 V295.63 H134.50 V294.38 H135.50 V296.78 H137.00 V297.50 H138.50 V299.10 H142.00 V296.91 H142.50 V297.04 H144.00 V296.49 H145.50 V297.02 H146.00 V299.10 H147.50 V296.32 H148.50 V295.45 H151.00 V295.30 H151.50 V296.60 H152.00 V296.89 H153.50 V296.63 H156.00 V294.11 H158.00 V294.86 H160.50 V294.96 H161.00 V297.46 H161.50 V296.64 H162.50 V296.63 H163.50 V297.53 H165.00 V297.73 H166.00 V297.30 H177.50 V299.10 H186.00 V297.70 H195.00 V299.10 H208.00 V297.10 H221.50 V298.10 H226.00 V299.10 H238.50 V297.19 H239.50 V296.54 H240.50 V297.55 H241.50 V297.46 H244.50 V297.30 H246.00 V297.54 H247.00 V297.10 H248.00 V297.10 H251.00 V297.20 H252.50 V297.47 H255.00 V296.86 H256.00 V297.49 H257.50 V296.84 H260.50 V299.10 H262.00 V297.68 H264.50 V297.90 H266.00 V299.10 H267.00 V299.10 Z" fill="#2d4e86"/>
<line x1="33.00" y1="299.10" x2="267.00" y2="299.10" stroke="#27375a" stroke-width="0.55" />
<text x="64.20" y="287.34" font-size="5.10" text-anchor="start" font-weight="normal" fill="#222" >TP53</text>
<line x1="62.60" y1="284.20" x2="58.00" y2="289.00" stroke="#111" stroke-width="0.85" />
<path d="M55.8 291.3 L56.8 287.7 L59.4 290.2 Z" fill="#111" stroke="#111" stroke-width="0.4"/>
<text x="283.60" y="214.36" font-size="12.10" text-anchor="start" font-weight="bold" fill="#000" >D</text>
<text x="317.50" y="226.76" font-size="6.00" text-anchor="middle" font-weight="normal" fill="#222" >AH-DN</text>
<text x="432.50" y="225.31" font-size="6.15" text-anchor="middle" font-weight="normal" fill="#222" >AH-t</text>
<text x="318.00" y="238.94" font-size="5.12" text-anchor="end" font-weight="normal" fill="#222" >Signature 12</text>
<rect x="324.90" y="233.00" width="25.63" height="8.20" fill="#7b7e93" stroke="#5c5e6e" stroke-width="0.5"/>
<text x="353.13" y="239.24" font-size="5.10" text-anchor="start" font-weight="normal" fill="#222" >35.6%</text>
<text x="318.00" y="251.44" font-size="5.12" text-anchor="end" font-weight="normal" fill="#222" >Signature 1</text>
<rect x="324.90" y="245.50" width="18.22" height="8.20" fill="#454b63" stroke="#33384a" stroke-width="0.5"/>
<text x="345.72" y="251.74" font-size="5.10" text-anchor="start" font-weight="normal" fill="#222" >25.3%</text>
<text x="318.00" y="263.94" font-size="5.12" text-anchor="end" font-weight="normal" fill="#222" >Signature 3</text>
<rect x="324.90" y="258.00" width="12.24" height="8.20" fill="#a9a9ba" stroke="#7e7e8b" stroke-width="0.5"/>
<text x="339.74" y="264.24" font-size="5.10" text-anchor="start" font-weight="normal" fill="#222" >17%</text>
<text x="318.00" y="276.44" font-size="5.12" text-anchor="end" font-weight="normal" fill="#222" >Signature 5</text>
<rect x="324.90" y="270.50" width="6.55" height="8.20" fill="#d3d3dc" stroke="#9e9ea5" stroke-width="0.5"/>
<text x="334.05" y="276.74" font-size="5.10" text-anchor="start" font-weight="normal" fill="#222" >9.1%</text>
<text x="318.00" y="288.94" font-size="5.12" text-anchor="end" font-weight="normal" fill="#e8a040" class="o" >Signature 6</text>
<rect x="324.90" y="283.00" width="5.69" height="8.20" fill="#e0890f" stroke="#a8660b" stroke-width="0.5"/>
<text x="333.19" y="289.24" font-size="5.10" text-anchor="start" font-weight="normal" fill="#222" >7.9%</text>
<text x="318.00" y="301.44" font-size="5.12" text-anchor="end" font-weight="normal" fill="#222" >Signature 11</text>
<rect x="324.90" y="295.50" width="3.60" height="8.20" fill="#d7d7e0" stroke="#a1a1a8" stroke-width="0.5"/>
<text x="331.10" y="301.74" font-size="5.10" text-anchor="start" font-weight="normal" fill="#222" >5%</text>
<line x1="324.80" y1="306.90" x2="363.30" y2="306.90" stroke="#111" stroke-width="1.30" />
<text x="324.80" y="314.84" font-size="5.10" text-anchor="middle" font-weight="normal" fill="#222" >0</text>
<text x="343.50" y="314.84" font-size="5.10" text-anchor="middle" font-weight="normal" fill="#222" >25</text>
<text x="362.30" y="314.84" font-size="5.10" text-anchor="middle" font-weight="normal" fill="#222" >50</text>
<text x="430.40" y="236.85" font-size="5.15" text-anchor="end" font-weight="normal" fill="#222" >Signature 1</text>
<rect x="433.80" y="231.30" width="21.96" height="6.60" fill="#454b63" stroke="#33384a" stroke-width="0.5"/>
<text x="458.56" y="237.04" font-size="5.10" text-anchor="start" font-weight="normal" fill="#222" >30.5%</text>
<text x="430.40" y="247.55" font-size="5.15" text-anchor="end" font-weight="normal" fill="#e8a040" class="o" >Signature 6</text>
<rect x="433.80" y="242.00" width="16.06" height="6.60" fill="#e0890f" stroke="#a8660b" stroke-width="0.5"/>
<text x="452.66" y="247.74" font-size="5.10" text-anchor="start" font-weight="normal" fill="#222" >22.3%</text>
<text x="430.40" y="258.25" font-size="5.15" text-anchor="end" font-weight="normal" fill="#222" >Signature 12</text>
<rect x="433.80" y="252.70" width="15.26" height="6.60" fill="#7b7e93" stroke="#5c5e6e" stroke-width="0.5"/>
<text x="451.86" y="258.44" font-size="5.10" text-anchor="start" font-weight="normal" fill="#222" >21.2%</text>
<text x="430.40" y="268.95" font-size="5.15" text-anchor="end" font-weight="normal" fill="#222" >Signature 3</text>
<rect x="433.80" y="263.40" width="11.74" height="6.60" fill="#a9a9ba" stroke="#7e7e8b" stroke-width="0.5"/>
<text x="448.34" y="269.14" font-size="5.10" text-anchor="start" font-weight="normal" fill="#222" >16.3%</text>
<text x="430.40" y="279.65" font-size="5.15" text-anchor="end" font-weight="normal" fill="#222" >Signature 7</text>
<rect x="433.80" y="274.10" width="3.46" height="6.60" fill="#d3d3dc" stroke="#9e9ea5" stroke-width="0.5"/>
<text x="440.06" y="279.84" font-size="5.10" text-anchor="start" font-weight="normal" fill="#222" >4.8%</text>
<text x="430.40" y="290.35" font-size="5.15" text-anchor="end" font-weight="normal" fill="#222" >Signature 23</text>
<rect x="433.80" y="284.80" width="2.74" height="6.60" fill="#d7d7e0" stroke="#a1a1a8" stroke-width="0.5"/>
<text x="439.34" y="290.54" font-size="5.10" text-anchor="start" font-weight="normal" fill="#222" >3.8%</text>
<text x="430.40" y="301.05" font-size="5.15" text-anchor="end" font-weight="normal" fill="#222" >Signature 5</text>
<rect x="433.80" y="295.50" width="0.80" height="6.60" fill="#d7d7e0" stroke="#a1a1a8" stroke-width="0.5"/>
<text x="437.32" y="301.24" font-size="5.10" text-anchor="start" font-weight="normal" fill="#222" >1%</text>
<line x1="432.30" y1="305.40" x2="470.80" y2="305.40" stroke="#111" stroke-width="1.30" />
<text x="432.30" y="313.84" font-size="5.10" text-anchor="middle" font-weight="normal" fill="#222" >0</text>
<text x="451.50" y="313.84" font-size="5.10" text-anchor="middle" font-weight="normal" fill="#222" >25</text>
<text x="470.60" y="313.84" font-size="5.10" text-anchor="middle" font-weight="normal" fill="#222" >50</text>
<rect x="0" y="0" width="520" height="1" fill="#000"/><rect x="0" y="0" width="1" height="324" fill="#000"/><rect x="518.6" y="0" width="1.4" height="324" fill="#000"/><rect x="0" y="322.6" width="520" height="1.4" fill="#000"/>
</svg>
</body></html>
